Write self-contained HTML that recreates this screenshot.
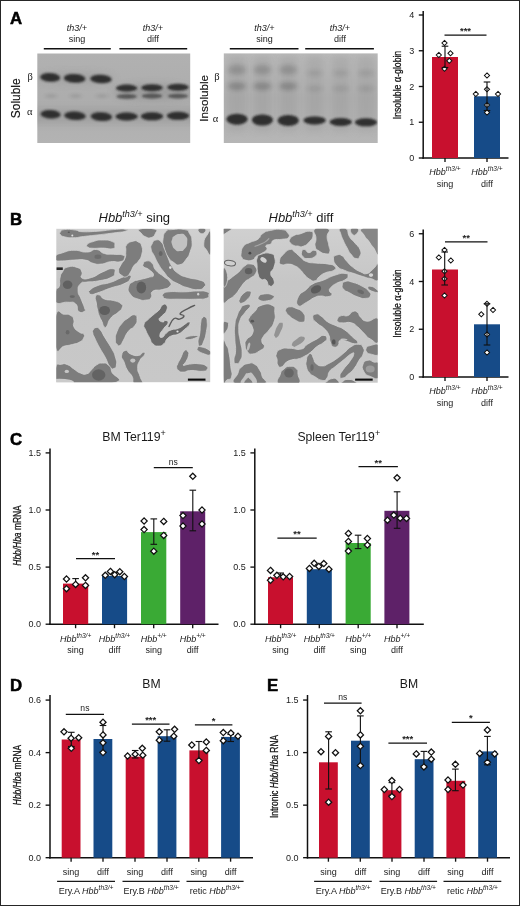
<!DOCTYPE html>
<html lang="en"><head><meta charset="utf-8"><title>Figure</title>
<style>html,body{margin:0;padding:0;background:#fff}body{width:520px;height:906px;overflow:hidden}svg{display:block}text{font-family:"Liberation Sans",sans-serif}.ser{font-family:"Liberation Serif","DejaVu Serif",serif}</style>
</head><body>
<svg width="520" height="906" viewBox="0 0 520 906">
<defs>
<filter id="b1" x="-30%" y="-80%" width="160%" height="260%"><feGaussianBlur stdDeviation="1.1 0.9"/></filter>
<filter id="b2" x="-30%" y="-80%" width="160%" height="260%"><feGaussianBlur stdDeviation="2.2 1.6"/></filter>
<filter id="b4" x="-30%" y="-80%" width="160%" height="260%"><feGaussianBlur stdDeviation="1.3 1.2"/></filter>
<filter id="b5" x="-40%" y="-120%" width="180%" height="340%"><feGaussianBlur stdDeviation="2.6 2.2"/></filter>
<filter id="b3" x="-50%" y="-150%" width="200%" height="400%"><feGaussianBlur stdDeviation="3.5"/></filter>
<filter id="mb" x="0" y="0" width="100%" height="100%"><feGaussianBlur stdDeviation="0.5"/></filter>
<linearGradient id="g1" x1="0" y1="0" x2="0" y2="1"><stop offset="0" stop-color="#b1b1b1"/><stop offset="0.5" stop-color="#adadad"/><stop offset="1" stop-color="#b3b3b3"/></linearGradient>
<linearGradient id="g2" x1="0" y1="0" x2="0" y2="1"><stop offset="0" stop-color="#bababa"/><stop offset="0.5" stop-color="#b0b0b0"/><stop offset="1" stop-color="#b6b6b6"/></linearGradient>
<clipPath id="c1"><rect x="37.3" y="53.5" width="152.9" height="89.5"/></clipPath>
<clipPath id="c2"><rect x="223.8" y="53.4" width="153.9" height="89.6"/></clipPath>
<linearGradient id="mg1" x1="0" y1="0" x2="0" y2="1"><stop offset="0" stop-color="#d0d0d0"/><stop offset="0.35" stop-color="#c6c6c6"/><stop offset="1" stop-color="#c8c8c8"/></linearGradient>
<clipPath id="m1"><rect x="56.3" y="228.8" width="153.9" height="153.4"/></clipPath>
<clipPath id="m2"><rect x="223.7" y="228.8" width="154" height="153.9"/></clipPath>
</defs>
<rect x="0" y="0" width="520" height="906" fill="#fff"/>
<rect x="0.5" y="0.5" width="519" height="905" fill="none" stroke="#262626" stroke-width="1"/>
<text x="10" y="23.7" font-size="16.8" text-anchor="start" font-weight="bold" fill="#000" stroke="#000" stroke-width="0.5">A</text>
<text x="10" y="225.2" font-size="16.8" text-anchor="start" font-weight="bold" fill="#000" stroke="#000" stroke-width="0.5">B</text>
<text x="10" y="445" font-size="16.8" text-anchor="start" font-weight="bold" fill="#000" stroke="#000" stroke-width="0.5">C</text>
<text x="10" y="691.4" font-size="16.8" text-anchor="start" font-weight="bold" fill="#000" stroke="#000" stroke-width="0.5">D</text>
<text x="267" y="691.4" font-size="16.8" text-anchor="start" font-weight="bold" fill="#000" stroke="#000" stroke-width="0.5">E</text>
<text x="77" y="30.5" font-size="9" text-anchor="middle" font-style="italic" fill="#1a1a1a">th3/+</text>
<text x="77" y="41.8" font-size="9" text-anchor="middle" fill="#1a1a1a">sing</text>
<line x1="43.8" y1="48.7" x2="110.8" y2="48.7" stroke="#111" stroke-width="1.4" stroke-linecap="butt"/>
<text x="153" y="30.5" font-size="9" text-anchor="middle" font-style="italic" fill="#1a1a1a">th3/+</text>
<text x="153" y="41.8" font-size="9" text-anchor="middle" fill="#1a1a1a">diff</text>
<line x1="119.4" y1="48.7" x2="187.2" y2="48.7" stroke="#111" stroke-width="1.4" stroke-linecap="butt"/>
<text x="264.5" y="30.5" font-size="9" text-anchor="middle" font-style="italic" fill="#1a1a1a">th3/+</text>
<text x="264.5" y="41.8" font-size="9" text-anchor="middle" fill="#1a1a1a">sing</text>
<line x1="229.8" y1="48.7" x2="298.5" y2="48.7" stroke="#111" stroke-width="1.4" stroke-linecap="butt"/>
<text x="340" y="30.5" font-size="9" text-anchor="middle" font-style="italic" fill="#1a1a1a">th3/+</text>
<text x="340" y="41.8" font-size="9" text-anchor="middle" fill="#1a1a1a">diff</text>
<line x1="305.2" y1="48.7" x2="373.9" y2="48.7" stroke="#111" stroke-width="1.4" stroke-linecap="butt"/>
<rect x="37.3" y="53.5" width="152.9" height="89.5" fill="url(#g1)"/>
<g clip-path="url(#c1)">
<rect x="30" y="108" width="170" height="16" fill="#858585" opacity="0.32" filter="url(#b3)"/>
<ellipse cx="153" cy="92" rx="40" ry="8" fill="#858585" opacity="0.42" filter="url(#b3)"/>
<ellipse cx="75" cy="78" rx="40" ry="6" fill="#858585" opacity="0.25" filter="url(#b3)"/>
<ellipse cx="50.2" cy="77.4" rx="10" ry="4.3" fill="#1c1c1c" opacity="0.86" filter="url(#b1)" transform="rotate(3 50.2 77.4)"/>
<ellipse cx="50.6" cy="114.3" rx="10" ry="4.3" fill="#1c1c1c" opacity="0.86" filter="url(#b1)" transform="rotate(3 50.6 114.3)"/>
<ellipse cx="51.2" cy="96" rx="6" ry="2.2" fill="#161616" opacity="0.1" filter="url(#b2)"/>
<ellipse cx="74.6" cy="78.4" rx="10.8" ry="4.3" fill="#1c1c1c" opacity="0.86" filter="url(#b1)" transform="rotate(3 74.6 78.4)"/>
<ellipse cx="75" cy="115.7" rx="10.8" ry="4.3" fill="#1c1c1c" opacity="0.86" filter="url(#b1)" transform="rotate(3 75 115.7)"/>
<ellipse cx="75.6" cy="96" rx="6" ry="2.2" fill="#161616" opacity="0.1" filter="url(#b2)"/>
<ellipse cx="101" cy="79" rx="10.8" ry="4.3" fill="#1c1c1c" opacity="0.86" filter="url(#b1)" transform="rotate(3 101 79)"/>
<ellipse cx="101.4" cy="116.6" rx="10.8" ry="4.3" fill="#1c1c1c" opacity="0.86" filter="url(#b1)" transform="rotate(3 101.4 116.6)"/>
<ellipse cx="102" cy="96" rx="6" ry="2.2" fill="#161616" opacity="0.1" filter="url(#b2)"/>
<ellipse cx="126.6" cy="88.1" rx="10.8" ry="3.5" fill="#1c1c1c" opacity="0.84" filter="url(#b1)"/>
<ellipse cx="126.6" cy="96.5" rx="10.2" ry="2.4" fill="#1c1c1c" opacity="0.55" filter="url(#b1)"/>
<ellipse cx="126.6" cy="116.5" rx="11.2" ry="4" fill="#1c1c1c" opacity="0.86" filter="url(#b1)"/>
<ellipse cx="152" cy="87.7" rx="10.8" ry="3.5" fill="#1c1c1c" opacity="0.84" filter="url(#b1)"/>
<ellipse cx="152" cy="96" rx="10.2" ry="2.4" fill="#1c1c1c" opacity="0.55" filter="url(#b1)"/>
<ellipse cx="152" cy="116.3" rx="11.2" ry="4" fill="#1c1c1c" opacity="0.86" filter="url(#b1)"/>
<ellipse cx="178" cy="87.2" rx="10.8" ry="3.5" fill="#1c1c1c" opacity="0.84" filter="url(#b1)"/>
<ellipse cx="178" cy="96.1" rx="10.2" ry="2.4" fill="#1c1c1c" opacity="0.55" filter="url(#b1)"/>
<ellipse cx="178" cy="115.8" rx="11.2" ry="4" fill="#1c1c1c" opacity="0.86" filter="url(#b1)"/>
</g>
<rect x="223.8" y="53.4" width="153.9" height="89.6" fill="url(#g2)"/>
<g clip-path="url(#c2)">
<rect x="228" y="56" width="18" height="75" fill="#8c8c8c" opacity="0.28" filter="url(#b3)"/>
<rect x="253.4" y="56" width="18" height="75" fill="#8c8c8c" opacity="0.28" filter="url(#b3)"/>
<rect x="279.2" y="56" width="18" height="75" fill="#8c8c8c" opacity="0.28" filter="url(#b3)"/>
<rect x="305.6" y="56" width="18" height="75" fill="#8c8c8c" opacity="0.28" filter="url(#b3)"/>
<rect x="331.8" y="56" width="18" height="75" fill="#8c8c8c" opacity="0.28" filter="url(#b3)"/>
<rect x="357" y="56" width="18" height="75" fill="#8c8c8c" opacity="0.28" filter="url(#b3)"/>
<ellipse cx="237" cy="119.2" rx="10.6" ry="5.5" fill="#1a1a1a" opacity="0.86" filter="url(#b4)"/>
<ellipse cx="237" cy="86.2" rx="9" ry="4" fill="#161616" opacity="0.22" filter="url(#b5)"/>
<ellipse cx="237" cy="69.8" rx="9" ry="4.8" fill="#161616" opacity="0.17" filter="url(#b5)"/>
<ellipse cx="262.4" cy="120" rx="10.6" ry="5.5" fill="#1a1a1a" opacity="0.86" filter="url(#b4)"/>
<ellipse cx="262.4" cy="86.2" rx="9" ry="4" fill="#161616" opacity="0.22" filter="url(#b5)"/>
<ellipse cx="262.4" cy="69.8" rx="9" ry="4.8" fill="#161616" opacity="0.17" filter="url(#b5)"/>
<ellipse cx="288.2" cy="120.4" rx="10.6" ry="5.5" fill="#1a1a1a" opacity="0.86" filter="url(#b4)"/>
<ellipse cx="288.2" cy="86.2" rx="9" ry="4" fill="#161616" opacity="0.22" filter="url(#b5)"/>
<ellipse cx="288.2" cy="69.8" rx="9" ry="4.8" fill="#161616" opacity="0.17" filter="url(#b5)"/>
<ellipse cx="314.6" cy="120.4" rx="11.2" ry="4" fill="#1c1c1c" opacity="0.86" filter="url(#b1)"/>
<ellipse cx="314.6" cy="88.5" rx="8" ry="3" fill="#161616" opacity="0.09" filter="url(#b5)"/>
<ellipse cx="314.6" cy="73" rx="8" ry="3" fill="#161616" opacity="0.09" filter="url(#b5)"/>
<ellipse cx="340.8" cy="122" rx="11.2" ry="4" fill="#1c1c1c" opacity="0.86" filter="url(#b1)"/>
<ellipse cx="340.8" cy="88.5" rx="8" ry="3" fill="#161616" opacity="0.09" filter="url(#b5)"/>
<ellipse cx="340.8" cy="73" rx="8" ry="3" fill="#161616" opacity="0.09" filter="url(#b5)"/>
<ellipse cx="366" cy="122.3" rx="11.2" ry="4" fill="#1c1c1c" opacity="0.86" filter="url(#b1)"/>
<ellipse cx="366" cy="88.5" rx="8" ry="3" fill="#161616" opacity="0.09" filter="url(#b5)"/>
<ellipse cx="366" cy="73" rx="8" ry="3" fill="#161616" opacity="0.09" filter="url(#b5)"/>
</g>
<text transform="translate(20.3,98.3) rotate(-90)" font-size="11.9" text-anchor="middle" fill="#111" stroke="#111" stroke-width="0.15">Soluble</text>
<text transform="translate(208,98.3) rotate(-90)" font-size="11.7" text-anchor="middle" fill="#111" stroke="#111" stroke-width="0.15">Insoluble</text>
<text class="ser" x="30.2" y="79.9" font-size="10.5" text-anchor="middle" fill="#1a1a1a">β</text>
<text class="ser" x="29.8" y="114.5" font-size="10.5" text-anchor="middle" fill="#1a1a1a">α</text>
<text class="ser" x="216.9" y="79.9" font-size="10.5" text-anchor="middle" fill="#1a1a1a">β</text>
<text class="ser" x="215.5" y="121.5" font-size="10.5" text-anchor="middle" fill="#1a1a1a">α</text>
<line x1="423.2" y1="11" x2="423.2" y2="158.75" stroke="#111" stroke-width="1.5" stroke-linecap="butt"/>
<line x1="422.45" y1="158" x2="508.5" y2="158" stroke="#111" stroke-width="1.5" stroke-linecap="butt"/>
<line x1="418.8" y1="15" x2="423.2" y2="15" stroke="#111" stroke-width="1.35" stroke-linecap="butt"/>
<text x="414.2" y="18.24" font-size="9" text-anchor="end" fill="#1a1a1a">4</text>
<line x1="418.8" y1="50.75" x2="423.2" y2="50.75" stroke="#111" stroke-width="1.35" stroke-linecap="butt"/>
<text x="414.2" y="53.99" font-size="9" text-anchor="end" fill="#1a1a1a">3</text>
<line x1="418.8" y1="86.5" x2="423.2" y2="86.5" stroke="#111" stroke-width="1.35" stroke-linecap="butt"/>
<text x="414.2" y="89.74" font-size="9" text-anchor="end" fill="#1a1a1a">2</text>
<line x1="418.8" y1="122.25" x2="423.2" y2="122.25" stroke="#111" stroke-width="1.35" stroke-linecap="butt"/>
<text x="414.2" y="125.49" font-size="9" text-anchor="end" fill="#1a1a1a">1</text>
<line x1="418.8" y1="158" x2="423.2" y2="158" stroke="#111" stroke-width="1.35" stroke-linecap="butt"/>
<text x="414.2" y="161.24" font-size="9" text-anchor="end" fill="#1a1a1a">0</text>
<rect x="432" y="57" width="26" height="101" fill="#c8102e"/>
<rect x="474" y="96.3" width="26" height="61.7" fill="#164b88"/>
<line x1="445" y1="158" x2="445" y2="162" stroke="#111" stroke-width="1.35" stroke-linecap="butt"/>
<line x1="487" y1="158" x2="487" y2="162" stroke="#111" stroke-width="1.35" stroke-linecap="butt"/>
<path d="M444.5,40.45 L447.05,43 L444.5,45.55 L441.95,43 Z" fill="#fff" stroke="#111" stroke-width="1.05"/>
<path d="M438.8,52.45 L441.35,55 L438.8,57.55 L436.25,55 Z" fill="#fff" stroke="#111" stroke-width="1.05"/>
<path d="M450.5,50.75 L453.05,53.3 L450.5,55.85 L447.95,53.3 Z" fill="#fff" stroke="#111" stroke-width="1.05"/>
<path d="M449.3,58.25 L451.85,60.8 L449.3,63.35 L446.75,60.8 Z" fill="#fff" stroke="#111" stroke-width="1.05"/>
<path d="M444.5,66.25 L447.05,68.8 L444.5,71.35 L441.95,68.8 Z" fill="#fff" stroke="#111" stroke-width="1.05"/>
<path d="M487,72.95 L489.55,75.5 L487,78.05 L484.45,75.5 Z" fill="#fff" stroke="#111" stroke-width="1.05"/>
<path d="M475.8,91.45 L478.35,94 L475.8,96.55 L473.25,94 Z" fill="#fff" stroke="#111" stroke-width="1.05"/>
<path d="M498,91.45 L500.55,94 L498,96.55 L495.45,94 Z" fill="#fff" stroke="#111" stroke-width="1.05"/>
<path d="M487,86.75 L489.55,89.3 L487,91.85 L484.45,89.3 Z" fill="#fff" stroke="#111" stroke-width="1.05"/>
<path d="M487,102.45 L489.55,105 L487,107.55 L484.45,105 Z" fill="#fff" stroke="#111" stroke-width="1.05"/>
<path d="M487,109.95 L489.55,112.5 L487,115.05 L484.45,112.5 Z" fill="#fff" stroke="#111" stroke-width="1.05"/>
<line x1="445" y1="46.2" x2="445" y2="67.5" stroke="#111" stroke-width="1.12" stroke-linecap="butt"/>
<line x1="441.7" y1="46.2" x2="448.3" y2="46.2" stroke="#111" stroke-width="1.12" stroke-linecap="butt"/>
<line x1="441.7" y1="67.5" x2="448.3" y2="67.5" stroke="#111" stroke-width="1.12" stroke-linecap="butt"/>
<line x1="487" y1="82" x2="487" y2="110.5" stroke="#111" stroke-width="1.12" stroke-linecap="butt"/>
<line x1="483.7" y1="82" x2="490.3" y2="82" stroke="#111" stroke-width="1.12" stroke-linecap="butt"/>
<line x1="483.7" y1="110.5" x2="490.3" y2="110.5" stroke="#111" stroke-width="1.12" stroke-linecap="butt"/>
<line x1="444.5" y1="35" x2="486.5" y2="35" stroke="#111" stroke-width="1.25" stroke-linecap="butt"/>
<text x="465.5" y="33.9" font-size="9.5" text-anchor="middle" font-weight="bold" fill="#222">***</text>
<text transform="translate(401,85) rotate(-90) scale(0.8,1)" font-size="10.8" text-anchor="middle" fill="#111" stroke="#111" stroke-width="0.25">Insoluble <tspan class="ser" font-size="13">α</tspan>-globin</text>
<text x="445" y="175.3" font-size="9" text-anchor="middle" font-style="italic" fill="#1a1a1a">Hbb<tspan font-size="6.57" dy="-3.87">th3/+</tspan></text>
<text x="445" y="187" font-size="9" text-anchor="middle" fill="#1a1a1a">sing</text>
<text x="487" y="175.3" font-size="9" text-anchor="middle" font-style="italic" fill="#1a1a1a">Hbb<tspan font-size="6.57" dy="-3.87">th3/+</tspan></text>
<text x="487" y="187" font-size="9" text-anchor="middle" fill="#1a1a1a">diff</text>
<text x="98.5" y="222" font-size="13" font-style="italic" fill="#1a1a1a">Hbb<tspan font-size="9" dy="-5">th3/+</tspan><tspan dy="5" font-style="normal"> sing</tspan></text>
<text x="268.5" y="222" font-size="13" font-style="italic" fill="#1a1a1a">Hbb<tspan font-size="9" dy="-5">th3/+</tspan><tspan dy="5" font-style="normal"> diff</tspan></text>
<rect x="56.3" y="228.8" width="153.9" height="153.4" fill="url(#mg1)"/>
<g clip-path="url(#m1)" filter="url(#mb)">
<path d="M60.4,232.0 C61.6,230.5 59.8,230.2 64.4,229.6 C68.9,229.0 70.3,229.4 75.5,230.1 C80.8,230.7 75.2,231.3 81.9,231.7 C88.6,232.0 88.3,231.8 97.9,231.2 C107.5,230.6 105.7,230.2 113.8,229.6 C122.0,229.0 121.6,228.8 125.0,229.3 C128.5,229.7 128.7,230.1 125.3,231.2 C122.0,232.3 122.1,231.8 113.8,232.9 C105.6,234.0 107.0,233.8 97.9,234.9 C88.8,235.9 90.7,235.6 83.5,236.5 C76.3,237.3 79.7,237.6 73.9,237.7 C68.2,237.8 68.4,237.7 64.4,236.8 C60.3,235.8 61.6,236.0 60.4,234.5 C59.2,233.1 59.2,233.5 60.4,232.0Z" fill="#7d7d7d" stroke="#d2d2d2" stroke-width="0.8"/>
<path d="M87.0,244.8 C88.5,243.0 88.4,243.0 93.1,241.6 C97.8,240.1 96.9,240.0 102.7,240.0 C108.4,240.0 108.6,239.9 112.3,241.6 C115.9,243.2 114.8,243.4 114.8,245.5 C114.8,247.7 115.9,248.0 112.3,248.7 C108.6,249.5 108.4,248.2 102.7,248.1 C96.9,248.0 97.4,248.5 93.1,248.3 C88.8,248.0 90.1,248.4 88.3,247.3 C86.5,246.3 85.6,246.5 87.0,244.8Z" fill="#7d7d7d" stroke="#d2d2d2" stroke-width="0.8"/>
<path d="M55.7,255.9 C57.9,253.7 57.3,254.4 62.8,252.7 C68.2,251.1 66.8,250.5 73.9,250.3 C81.1,250.1 80.0,252.3 86.7,252.1 C93.4,251.9 91.0,249.1 96.3,249.5 C101.6,250.0 99.0,252.1 104.3,253.5 C109.5,255.0 108.3,253.8 113.8,254.3 C119.4,254.8 119.5,253.9 122.6,255.1 C125.8,256.3 125.1,256.4 124.4,258.3 C123.7,260.3 124.3,260.7 120.2,261.7 C116.1,262.7 116.4,261.0 110.7,261.7 C104.9,262.4 106.3,263.6 101.1,264.1 C95.8,264.5 97.9,264.5 93.1,263.3 C88.3,262.1 90.9,261.0 85.1,260.1 C79.4,259.1 80.6,259.8 73.9,260.1 C67.2,260.3 68.2,260.9 62.8,260.9 C57.3,260.9 57.9,261.6 55.7,260.1 C53.6,258.6 53.6,258.1 55.7,255.9Z" fill="#7d7d7d" stroke="#d2d2d2" stroke-width="0.8"/>
<path d="M55.7,291.0 C56.8,286.3 58.0,290.1 59.3,286.3 C60.5,282.4 58.9,282.6 59.9,278.3 C60.9,274.0 60.2,275.2 62.5,271.9 C64.7,268.5 63.2,268.4 67.6,267.1 C72.0,265.8 72.8,266.0 77.1,267.4 C81.4,268.9 80.5,268.7 81.9,271.9 C83.4,275.0 79.1,276.3 81.9,278.0 C84.8,279.6 85.3,279.3 91.5,277.5 C97.7,275.7 96.4,274.5 102.7,271.9 C108.9,269.3 108.6,268.5 112.3,268.7 C115.9,268.9 115.3,270.0 114.8,272.7 C114.3,275.4 115.7,275.1 110.7,277.6 C105.6,280.1 105.1,279.6 97.9,281.0 C90.7,282.3 91.9,281.3 86.7,282.1 C81.5,282.9 83.2,281.0 80.6,283.7 C78.1,286.4 77.9,286.4 78.1,291.0 C78.2,295.6 79.2,294.0 81.1,299.0 C83.0,304.0 83.4,304.2 84.5,307.8 C85.6,311.4 86.5,309.9 84.8,311.0 C83.1,312.1 81.5,313.6 78.7,311.5 C76.0,309.3 78.9,306.6 75.5,303.8 C72.2,301.0 73.5,302.7 67.6,302.2 C61.6,301.7 59.3,305.6 55.7,302.2 C52.2,298.9 54.7,295.8 55.7,291.0Z" fill="#7d7d7d" stroke="#d2d2d2" stroke-width="0.8"/>
<path d="M89.9,290.2 C92.5,288.1 91.7,287.8 97.9,285.5 C104.1,283.1 103.5,284.7 110.7,282.3 C117.8,279.9 116.3,279.6 121.8,277.5 C127.3,275.3 126.5,274.6 129.0,275.1 C131.5,275.6 131.8,276.4 130.1,279.1 C128.5,281.7 129.3,281.3 123.4,284.0 C117.6,286.7 118.3,285.4 110.7,288.0 C103.0,290.6 103.6,290.9 97.9,292.8 C92.1,294.7 94.1,294.4 91.5,294.4 C88.9,294.3 89.6,293.9 89.1,292.6 C88.6,291.4 87.3,292.4 89.9,290.2Z" fill="#7d7d7d" stroke="#d2d2d2" stroke-width="0.8"/>
<path d="M126.6,244.8 C128.8,241.8 129.6,242.1 133.0,241.2 C136.4,240.4 135.5,240.3 138.1,241.9 C140.7,243.4 140.7,242.6 141.8,246.3 C142.9,250.1 142.9,249.8 141.8,254.3 C140.7,258.9 140.5,258.1 138.1,261.5 C135.7,265.0 136.0,262.7 133.8,265.8 C131.5,268.9 132.8,268.6 130.6,271.9 C128.5,275.1 129.2,275.6 126.6,276.7 C124.0,277.7 124.2,277.1 121.8,275.4 C119.4,273.7 118.9,274.3 118.6,271.1 C118.4,267.9 119.1,268.5 121.0,264.7 C122.9,260.9 123.6,262.4 125.0,258.3 C126.5,254.2 125.3,255.2 125.8,251.1 C126.3,247.1 124.5,247.7 126.6,244.8Z" fill="#7d7d7d" stroke="#d2d2d2" stroke-width="0.8"/>
<path d="M95.5,296.6 C96.4,294.2 96.8,294.3 99.5,295.0 C102.1,295.7 100.0,297.3 104.3,299.0 C108.6,300.7 108.8,299.2 113.8,300.6 C118.9,302.1 118.5,301.7 121.0,303.8 C123.5,306.0 123.1,305.2 122.1,307.8 C121.2,310.4 121.3,309.5 117.8,312.6 C114.4,315.7 114.0,314.1 110.7,318.2 C107.3,322.2 108.7,323.7 106.7,326.2 C104.7,328.6 105.4,327.9 104.0,326.5 C102.5,325.0 103.2,324.3 101.9,321.4 C100.5,318.4 100.8,319.9 99.5,316.6 C98.2,313.2 98.5,314.3 97.6,310.2 C96.6,306.1 96.9,307.1 96.3,303.0 C95.7,298.9 94.5,299.0 95.5,296.6Z" fill="#7d7d7d" stroke="#d2d2d2" stroke-width="0.8"/>
<path d="M166.3,231.2 C169.0,228.5 166.4,230.1 171.9,229.6 C177.4,229.1 179.4,228.4 184.7,229.6 C189.9,230.8 187.3,230.0 189.5,233.6 C191.7,237.2 191.7,236.3 192.0,241.6 C192.3,246.8 192.1,245.9 190.4,251.1 C188.7,256.4 189.4,255.0 186.3,259.1 C183.1,263.2 183.7,263.7 179.9,264.7 C176.1,265.7 177.1,264.7 173.5,262.3 C169.9,259.9 170.8,261.0 167.9,256.7 C165.0,252.4 165.4,253.4 163.9,247.9 C162.5,242.4 162.4,243.4 163.1,238.4 C163.8,233.3 163.7,233.8 166.3,231.2Z" fill="#7d7d7d" stroke="#d2d2d2" stroke-width="0.8"/>
<path d="M174.3,236.0 C176.6,234.4 176.5,233.9 179.9,233.9 C183.2,233.9 183.3,233.4 185.5,236.0 C187.7,238.5 187.5,238.5 187.2,242.4 C187.0,246.2 186.9,246.1 184.7,248.7 C182.5,251.4 182.8,250.9 179.9,251.1 C177.0,251.4 177.5,251.7 175.1,249.5 C172.7,247.4 172.8,247.1 171.9,244.0 C171.0,240.8 171.5,241.6 172.2,239.2 C172.9,236.8 172.0,237.6 174.3,236.0Z" fill="#c2c2c2"/>
<path d="M152.0,244.0 C153.4,241.1 153.1,240.4 155.9,240.0 C158.8,239.5 158.9,239.5 161.5,242.4 C164.2,245.2 162.8,245.0 164.7,249.5 C166.6,254.1 165.8,252.5 167.9,257.5 C170.1,262.5 168.8,261.5 171.9,266.3 C175.0,271.1 173.5,270.1 178.3,273.5 C183.1,276.8 181.6,275.6 187.9,277.5 C194.1,279.4 194.0,278.2 199.0,279.9 C204.1,281.5 203.3,280.9 204.8,283.1 C206.2,285.3 205.8,285.2 203.8,287.2 C201.9,289.2 203.0,289.4 198.2,289.6 C193.5,289.8 193.9,289.6 187.9,287.8 C181.9,286.1 183.6,286.5 178.3,283.9 C173.0,281.2 174.6,282.7 170.3,279.1 C166.0,275.5 167.5,276.4 163.9,271.9 C160.3,267.3 161.2,268.7 158.3,263.9 C155.5,259.1 156.5,260.2 154.3,255.9 C152.2,251.6 151.9,253.1 151.2,249.5 C150.4,245.9 150.5,246.8 152.0,244.0Z" fill="#7d7d7d" stroke="#d2d2d2" stroke-width="0.8"/>
<path d="M140.0,229.1 C143.8,227.8 149.7,227.8 154.3,229.1 C158.9,230.4 156.3,231.0 155.3,233.6 C154.3,236.1 154.1,236.6 151.2,237.6 C148.2,238.5 148.4,238.0 145.6,236.8 C142.7,235.6 143.3,235.9 141.6,233.6 C139.9,231.3 136.2,230.4 140.0,229.1Z" fill="#7d7d7d" stroke="#d2d2d2" stroke-width="0.8"/>
<path d="M198.7,228.8 C200.3,227.5 203.5,227.5 205.1,228.8 C206.7,230.0 205.7,231.7 204.1,232.9 C202.6,234.2 201.5,234.2 199.8,232.9 C198.2,231.7 197.1,230.0 198.7,228.8Z" fill="#7d7d7d" stroke="#d2d2d2" stroke-width="0.8"/>
<path d="M207.0,235.2 C209.2,232.2 209.8,227.9 211.0,233.3 C212.2,238.6 212.4,248.2 211.0,253.1 C209.6,257.9 208.4,252.5 206.2,249.5 C204.1,246.6 203.6,247.5 203.8,243.2 C204.1,238.8 204.9,238.1 207.0,235.2Z" fill="#7d7d7d" stroke="#d2d2d2" stroke-width="0.8"/>
<path d="M143.2,263.9 C143.9,262.1 143.7,261.3 146.4,261.0 C149.0,260.8 149.1,260.3 152.0,263.1 C154.8,265.9 152.4,266.2 155.9,270.3 C159.5,274.4 159.8,273.3 163.9,276.7 C168.0,280.0 167.9,278.6 169.7,281.5 C171.4,284.3 171.9,283.8 169.7,286.3 C167.5,288.7 167.4,288.1 162.3,289.6 C157.3,291.1 156.1,288.9 152.8,291.2 C149.4,293.5 153.1,294.8 151.2,297.4 C149.2,300.1 150.2,299.5 146.4,300.0 C142.5,300.5 143.2,300.9 138.4,299.2 C133.6,297.5 133.3,298.1 130.4,294.2 C127.5,290.4 127.8,290.1 128.8,286.3 C129.8,282.4 130.7,283.4 133.6,281.5 C136.5,279.5 134.1,281.1 138.4,279.9 C142.7,278.7 143.4,278.9 148.0,277.5 C152.5,276.0 153.3,277.5 153.5,275.1 C153.8,272.7 151.6,271.9 148.8,269.5 C145.9,267.1 145.6,268.8 144.0,267.1 C142.3,265.4 142.5,265.7 143.2,263.9Z" fill="#7d7d7d" stroke="#d2d2d2" stroke-width="0.8"/>
<path d="M163.1,294.2 C164.8,292.8 162.2,292.6 168.7,291.8 C175.2,291.1 176.1,292.1 184.7,291.8 C193.3,291.6 190.7,291.0 197.4,291.0 C204.1,291.0 203.6,290.6 207.0,291.8 C210.4,293.0 209.0,293.1 208.8,295.0 C208.5,297.0 210.1,297.1 206.2,298.4 C202.3,299.6 203.7,298.9 195.8,299.2 C187.9,299.4 188.7,299.3 179.9,299.2 C171.0,299.1 171.3,299.6 166.3,298.9 C161.3,298.1 164.1,298.0 163.1,296.6 C162.2,295.2 161.4,295.7 163.1,294.2Z" fill="#7d7d7d" stroke="#d2d2d2" stroke-width="0.8"/>
<path d="M55.7,315.9 C58.3,305.9 59.9,314.4 64.4,314.3 C68.9,314.2 67.9,313.9 70.8,315.6 C73.6,317.3 73.0,316.7 73.9,320.0 C74.9,323.4 72.3,323.1 73.9,326.8 C75.6,330.4 76.6,330.2 79.5,332.3 C82.5,334.5 82.4,332.3 83.7,333.9 C84.9,335.6 84.9,335.5 83.7,337.9 C82.4,340.4 82.9,340.1 79.5,342.1 C76.1,344.0 76.9,343.3 72.3,344.5 C67.8,345.7 69.3,345.1 64.4,346.1 C59.4,347.0 58.3,356.7 55.7,347.7 C53.2,338.6 53.2,325.9 55.7,315.9Z" fill="#7d7d7d" stroke="#d2d2d2" stroke-width="0.8"/>
<path d="M93.1,329.9 C94.2,328.3 94.1,327.5 96.3,327.5 C98.4,327.5 97.6,326.8 100.3,329.9 C102.9,333.1 101.7,332.4 105.1,337.9 C108.4,343.4 108.3,342.6 111.5,348.3 C114.6,354.0 114.0,352.0 115.4,357.1 C116.9,362.1 116.9,361.7 116.4,365.1 C115.9,368.5 115.8,367.9 113.8,368.4 C111.9,368.9 112.5,370.1 109.9,366.7 C107.2,363.3 108.2,362.8 105.1,357.1 C102.0,351.3 102.6,353.2 99.5,347.5 C96.4,341.8 96.7,342.2 94.7,337.9 C92.7,333.6 93.3,335.5 92.8,333.1 C92.3,330.7 92.0,331.6 93.1,329.9Z" fill="#7d7d7d" stroke="#d2d2d2" stroke-width="0.8"/>
<path d="M134.6,314.8 C132.0,314.3 132.0,315.3 128.2,318.0 C124.4,320.6 125.2,319.5 121.8,323.6 C118.5,327.6 119.0,326.8 117.0,331.5 C115.1,336.3 115.4,335.7 115.4,339.5 C115.4,343.4 115.6,342.6 117.0,344.3 C118.5,346.0 118.3,346.5 120.2,345.3 C122.1,344.1 121.0,344.4 123.4,340.3 C125.8,336.2 124.9,335.8 128.2,331.5 C131.6,327.2 132.0,329.5 134.6,326.0 C137.2,322.4 137.0,322.9 137.0,319.6 C137.0,316.2 137.2,315.3 134.6,314.8Z" fill="#7d7d7d" stroke="#d2d2d2" stroke-width="0.8"/>
<path d="M55.7,367.5 C57.4,361.7 57.6,365.1 61.2,364.3 C64.7,363.4 63.7,363.3 67.6,364.7 C71.4,366.2 70.1,366.6 73.9,369.0 C77.8,371.5 76.5,371.6 80.3,373.0 C84.2,374.5 83.4,374.8 86.7,373.8 C90.1,372.9 88.6,372.5 91.5,369.8 C94.4,367.2 92.9,367.1 96.3,365.1 C99.6,363.0 99.1,363.1 102.7,363.1 C106.3,363.1 105.6,362.6 108.3,365.1 C110.9,367.5 110.5,365.9 111.6,371.4 C112.7,376.9 128.7,379.8 111.9,383.4 C95.2,387.0 72.6,388.2 55.7,383.4 C38.9,378.6 54.1,373.2 55.7,367.5Z" fill="#7d7d7d" stroke="#d2d2d2" stroke-width="0.8"/>
<path d="M162.3,305.2 C164.5,303.8 165.2,303.5 166.5,305.2 C167.7,306.9 167.7,307.7 166.5,310.8 C165.2,313.9 164.5,312.9 162.3,315.6 C160.1,318.2 158.9,317.7 159.1,319.6 C159.4,321.5 161.4,321.7 163.1,322.0 C164.8,322.2 163.4,320.1 164.9,320.4 C166.4,320.6 168.4,320.4 168.1,322.8 C167.8,325.2 166.4,324.8 163.9,328.3 C161.5,331.9 160.4,332.0 159.9,334.7 C159.5,337.4 160.4,337.8 162.3,337.3 C164.2,336.8 163.7,335.3 166.3,333.1 C169.0,330.9 167.5,331.4 171.1,329.9 C174.7,328.5 174.2,330.0 178.3,328.3 C182.4,326.7 181.6,326.3 184.7,324.4 C187.8,322.4 187.2,322.0 188.7,322.0 C190.1,322.0 190.8,322.2 189.6,324.4 C188.4,326.6 188.1,326.4 184.7,329.3 C181.3,332.2 182.1,332.2 178.3,334.1 C174.5,336.0 175.3,334.3 171.9,335.7 C168.6,337.1 169.5,336.5 167.1,338.9 C164.7,341.3 166.6,341.5 163.9,343.7 C161.3,345.8 161.7,346.1 158.3,346.1 C155.0,346.1 155.4,346.1 152.8,343.7 C150.1,341.2 151.7,342.0 149.6,337.9 C147.4,333.8 147.2,334.0 145.6,329.9 C143.9,325.9 143.3,327.5 144.0,324.4 C144.7,321.2 144.8,322.7 148.0,319.6 C151.1,316.5 151.0,316.9 154.3,314.0 C157.7,311.1 156.7,312.6 159.1,310.0 C161.5,307.4 160.1,306.6 162.3,305.2Z" fill="#6a6a6a" stroke="#d2d2d2" stroke-width="0.8"/>
<path d="M169.0,326.4 C170.5,324.1 170.7,321.0 173.8,318.8 C177.0,316.6 176.5,320.0 179.6,319.1 C182.6,318.2 183.8,317.6 184.0,315.9 C184.2,314.2 179.1,315.5 180.2,313.3 C181.4,311.1 183.6,310.9 187.9,308.6 C192.2,306.2 192.6,306.3 194.6,305.4" fill="none" stroke="#5c5c5c" stroke-width="1.4" stroke-linecap="round" stroke-linejoin="round"/>
<path d="M202.2,318.0 C203.7,316.1 203.9,316.0 205.4,317.2 C206.9,318.4 206.9,317.7 207.2,322.0 C207.5,326.3 207.4,325.8 206.4,331.5 C205.4,337.3 205.6,336.8 203.8,341.1 C202.1,345.4 202.4,345.4 200.6,345.9 C198.9,346.4 198.3,346.5 198.1,342.7 C197.8,338.9 199.1,338.9 199.8,333.1 C200.6,327.4 199.9,328.1 200.6,323.6 C201.4,319.0 200.8,319.9 202.2,318.0Z" fill="#7d7d7d" stroke="#d2d2d2" stroke-width="0.8"/>
<path d="M197.4,348.3 C198.2,347.1 196.9,346.0 200.6,346.7 C204.4,347.4 207.1,348.3 209.9,350.7 C212.7,353.1 211.5,353.8 209.9,354.8 C208.3,355.8 208.1,355.2 204.6,354.0 C201.1,352.8 200.4,352.6 198.2,350.9 C196.1,349.1 196.7,349.5 197.4,348.3Z" fill="#7d7d7d" stroke="#d2d2d2" stroke-width="0.8"/>
<path d="M184.4,350.7 C186.6,348.7 186.6,350.2 187.9,351.7 C189.1,353.1 189.1,352.5 188.5,355.5 C187.9,358.5 187.5,358.6 186.0,361.5 C184.4,364.5 182.3,364.6 183.4,365.4 C184.5,366.1 184.8,364.6 189.5,364.1 C194.2,363.6 194.0,363.2 199.0,363.8 C204.1,364.4 203.8,364.3 206.2,366.0 C208.6,367.7 208.2,367.9 207.0,369.5 C205.8,371.1 207.0,371.0 202.2,371.3 C197.4,371.6 196.8,370.2 191.1,370.5 C185.3,370.7 186.8,372.1 183.1,372.1 C179.3,372.1 180.5,371.8 178.6,370.5 C176.7,369.1 177.0,369.6 176.7,367.6 C176.4,365.6 176.5,366.6 177.7,363.8 C178.8,361.0 178.5,362.3 180.5,358.4 C182.5,354.4 182.2,352.7 184.4,350.7Z" fill="#7d7d7d" stroke="#d2d2d2" stroke-width="0.8"/>
<path d="M186.3,337.1 C188.7,335.9 192.7,335.5 195.8,335.5 C199.0,335.6 199.2,336.0 196.8,337.3 C194.4,338.5 191.0,339.7 187.9,339.7 C184.7,339.6 183.9,338.4 186.3,337.1Z" fill="#7d7d7d" stroke="#d2d2d2" stroke-width="0.8"/>
<path d="M130.4,353.9 C134.2,355.4 134.6,356.0 138.4,355.5 C142.2,355.0 141.3,352.5 143.2,352.3 C145.0,352.0 145.6,352.3 144.6,354.7 C143.7,357.1 142.0,356.2 140.0,360.3 C137.9,364.3 137.7,363.5 137.7,368.3 C137.7,373.0 138.7,371.7 140.0,376.2 C141.2,380.8 143.6,381.3 141.9,383.4 C140.2,385.6 137.4,385.6 134.4,383.4 C131.4,381.3 134.2,380.3 132.0,376.2 C129.8,372.2 129.6,374.2 127.2,369.8 C124.8,365.5 125.7,366.2 124.0,361.9 C122.3,357.6 121.1,358.9 121.6,355.5 C122.1,352.0 123.0,350.9 125.6,350.4 C128.2,349.9 126.6,352.4 130.4,353.9Z" fill="#7d7d7d" stroke="#d2d2d2" stroke-width="0.8"/>
<ellipse cx="132.8" cy="360.6" rx="2.6" ry="2.1" fill="#c2c2c2"/>
<ellipse cx="67.6" cy="284.7" rx="4.8" ry="4.2" fill="#3c3c3c" opacity="0.42"/>
<ellipse cx="72.3" cy="296.6" rx="2.6" ry="1.3" fill="#3c3c3c" opacity="0.35"/>
<ellipse cx="97.9" cy="256.7" rx="3.5" ry="2.2" fill="#3c3c3c" opacity="0.25"/>
<ellipse cx="141.3" cy="287.5" rx="4.8" ry="6.1" fill="#3c3c3c" opacity="0.48"/>
<ellipse cx="160.7" cy="253.5" rx="1.9" ry="2.6" fill="#3c3c3c" opacity="0.35"/>
<ellipse cx="104.6" cy="310.5" rx="5.4" ry="4.5" fill="#3c3c3c" opacity="0.48"/>
<ellipse cx="98.7" cy="375.0" rx="6.7" ry="5.7" fill="#3c3c3c" opacity="0.38"/>
<ellipse cx="66.8" cy="371.4" rx="2.2" ry="1.6" fill="#d8d8d8" opacity="0.8"/>
<ellipse cx="67.6" cy="332.3" rx="1.9" ry="2.2" fill="#3c3c3c" opacity="0.3"/>
<ellipse cx="72.3" cy="235.5" rx="1.0" ry="1.0" fill="#e0e0e0"/>
<ellipse cx="68.8" cy="232.3" rx="1.1" ry="0.8" fill="#3c3c3c" opacity="0.6"/>
<ellipse cx="170.3" cy="267.6" rx="1.3" ry="1.3" fill="#e0e0e0"/>
<ellipse cx="198.2" cy="294.2" rx="1.1" ry="1.4" fill="#cfcfcf"/>
<ellipse cx="177.5" cy="331.5" rx="1.1" ry="1.0" fill="#e0e0e0"/>
<ellipse cx="59.6" cy="382.3" rx="14.4" ry="3.5" fill="#e6e6e6" opacity="0.75"/>
<rect x="56.4" y="267.4" width="6.4" height="2.6" fill="#2a2a2a"/>
<rect x="187.9" y="378.6" width="17.6" height="2.1" fill="#111"/>
</g>
<rect x="223.7" y="228.8" width="154" height="153.9" fill="url(#mg1)"/>
<g clip-path="url(#m2)" filter="url(#mb)">
<path d="M241.1,253.5 C241.6,250.2 240.9,249.7 243.5,246.3 C246.2,243.0 245.6,244.5 249.9,242.4 C254.2,240.2 254.1,241.8 257.9,239.2 C261.7,236.5 258.9,236.2 262.7,233.6 C266.5,230.9 264.9,231.6 270.7,230.4 C276.4,229.2 276.8,228.9 281.8,229.6 C286.9,230.3 285.6,230.4 287.6,232.8 C289.6,235.2 290.1,235.6 288.4,237.6 C286.7,239.5 286.2,238.6 281.8,239.3 C277.5,240.1 277.2,238.7 273.9,240.1 C270.5,241.5 273.1,242.3 270.7,244.0 C268.3,245.6 267.0,244.0 265.9,245.7 C264.7,247.4 268.3,247.1 266.8,249.5 C265.4,251.9 264.3,251.7 261.1,253.7 C257.9,255.7 258.9,254.2 256.3,256.1 C253.7,258.0 255.7,258.9 252.3,260.1 C249.0,261.3 248.2,260.8 245.1,260.1 C242.0,259.3 243.1,259.5 241.9,257.5 C240.7,255.6 240.7,256.9 241.1,253.5Z" fill="#7d7d7d" stroke="#d2d2d2" stroke-width="0.8"/>
<path d="M255.0,246.3 C256.5,245.8 256.8,245.8 259.8,244.4 C262.9,243.1 262.6,243.6 265.2,241.9 C267.9,240.2 267.7,239.6 268.8,238.7" fill="none" stroke="#a8a8a8" stroke-width="1.1" stroke-linecap="round" stroke-linejoin="round"/>
<path d="M257.1,258.3 C258.3,255.0 257.0,255.8 261.1,254.3 C265.2,252.9 266.6,252.3 270.7,253.5 C274.8,254.7 273.8,254.2 274.8,258.3 C275.8,262.4 275.3,262.5 274.0,267.1 C272.8,271.6 270.7,269.7 270.7,273.5 C270.6,277.3 273.1,276.5 273.9,279.9 C274.6,283.2 274.7,282.9 273.2,284.7 C271.8,286.4 271.3,287.0 269.1,285.6 C266.9,284.2 268.3,281.8 265.9,279.9 C263.5,278.0 263.5,281.1 261.1,279.2 C258.7,277.3 259.1,277.6 257.9,273.5 C256.7,269.4 257.3,270.0 257.1,265.5 C256.9,261.0 255.9,261.7 257.1,258.3Z" fill="#6a6a6a" stroke="#d2d2d2" stroke-width="0.8"/>
<ellipse cx="263.5" cy="259.9" rx="3.5" ry="2.2" fill="#dcdcdc" opacity="0.9" transform="rotate(35 263.5 259.9)"/>
<path d="M222.8,285.5 C225.2,278.5 226.0,282.3 230.8,278.3 C235.6,274.2 234.7,275.5 238.8,271.9 C242.8,268.3 241.0,268.7 244.3,266.3 C247.7,263.9 246.5,263.7 249.9,263.9 C253.3,264.1 253.9,264.2 255.7,267.1 C257.4,270.0 257.4,270.1 255.7,273.5 C253.9,276.9 253.1,276.0 249.9,278.4 C246.8,280.9 248.0,278.8 245.1,281.6 C242.3,284.4 243.2,284.1 240.3,287.8 C237.5,291.6 238.9,290.8 235.6,294.2 C232.2,297.6 233.0,297.0 229.2,299.2 C225.3,301.3 224.7,305.5 222.8,301.4 C220.9,297.3 220.4,292.4 222.8,285.5Z" fill="#7d7d7d" stroke="#d2d2d2" stroke-width="0.8"/>
<path d="M222.8,228.5 C225.3,226.8 229.7,227.4 231.1,228.5 C232.5,229.5 230.1,230.4 227.6,232.0 C225.1,233.6 224.2,234.9 222.8,233.9 C221.4,232.8 220.3,230.1 222.8,228.5Z" fill="#7d7d7d" stroke="#d2d2d2" stroke-width="0.8"/>
<ellipse cx="230.0" cy="263.1" rx="5.6" ry="2.7" fill="#cfcfcf" stroke="#666" stroke-width="1.0" transform="rotate(8 230.0 263.1)"/>
<path d="M222.8,270.0 C224.0,266.0 225.5,268.0 226.8,271.9 C228.0,275.8 228.1,279.1 226.9,283.1 C225.7,287.0 224.0,288.9 222.8,285.0 C221.5,281.0 221.6,273.9 222.8,270.0Z" fill="#7d7d7d" stroke="#d2d2d2" stroke-width="0.8"/>
<path d="M239.5,299.0 C240.7,296.4 240.7,295.8 243.5,293.4 C246.4,291.0 246.9,290.8 249.1,291.0 C251.3,291.3 251.6,291.5 250.9,294.2 C250.2,296.9 249.4,297.3 246.7,300.0 C244.0,302.7 244.1,302.5 241.9,303.2 C239.8,303.8 240.3,303.5 239.5,302.2 C238.8,301.0 238.4,301.7 239.5,299.0Z" fill="#7d7d7d" stroke="#d2d2d2" stroke-width="0.8"/>
<path d="M258.7,296.6 C259.9,294.7 260.2,294.4 264.3,293.9 C268.4,293.4 269.6,293.7 272.3,295.0 C275.0,296.3 274.7,296.5 273.2,298.2 C271.8,299.9 271.4,300.1 267.5,300.8 C263.6,301.4 262.9,301.7 260.3,300.5 C257.7,299.2 257.5,298.6 258.7,296.6Z" fill="#7d7d7d" stroke="#d2d2d2" stroke-width="0.8"/>
<path d="M279.5,260.7 C279.9,257.6 280.3,257.7 283.4,254.3 C286.6,251.0 286.5,250.3 289.8,249.5 C293.2,248.8 291.6,249.8 294.6,251.9 C297.7,254.1 296.5,253.8 300.0,256.7 C303.6,259.6 301.6,259.6 306.4,261.5 C311.2,263.4 309.8,262.4 316.0,263.1 C322.2,263.8 321.6,262.9 327.2,263.9 C332.7,264.9 332.6,264.3 334.5,266.3 C336.5,268.3 336.4,268.5 333.7,270.4 C331.0,272.4 329.9,270.8 325.6,272.7 C321.2,274.6 322.3,274.2 319.2,276.7 C316.1,279.1 318.1,280.1 315.2,280.8 C312.3,281.6 312.7,281.0 309.6,279.2 C306.5,277.5 307.7,278.0 304.8,275.1 C302.0,272.2 303.1,272.3 300.0,269.5 C297.0,266.7 298.2,267.4 294.6,265.8 C291.1,264.2 292.1,264.4 288.2,264.1 C284.4,263.7 284.5,265.7 281.8,264.7 C279.2,263.7 279.0,263.8 279.5,260.7Z" fill="#7d7d7d" stroke="#d2d2d2" stroke-width="0.8"/>
<path d="M289.8,239.2 C291.0,236.8 291.6,236.8 294.6,235.2 C297.7,233.6 295.5,235.1 300.0,233.9 C304.5,232.7 305.7,230.8 309.6,231.2 C313.5,231.6 313.0,232.1 313.0,235.2 C313.0,238.3 312.5,238.2 309.6,241.6 C306.7,244.9 306.8,245.0 303.2,246.3 C299.7,247.7 300.4,246.2 297.8,246.0 C295.2,245.8 296.8,246.6 294.6,245.7 C292.5,244.8 292.1,245.1 290.6,243.2 C289.2,241.2 288.6,241.6 289.8,239.2Z" fill="#7d7d7d" stroke="#d2d2d2" stroke-width="0.8"/>
<path d="M301.6,251.9 C302.1,249.7 302.6,249.3 304.8,249.5 C306.9,249.8 306.1,252.5 308.8,252.7 C311.4,253.0 311.1,250.3 313.6,250.3 C316.0,250.3 316.7,250.8 316.9,252.7 C317.2,254.7 317.0,255.2 314.4,256.9 C311.7,258.6 311.3,258.5 308.0,258.5 C304.6,258.5 305.1,258.8 303.2,256.9 C301.3,254.9 301.1,254.1 301.6,251.9Z" fill="#7d7d7d" stroke="#d2d2d2" stroke-width="0.8"/>
<path d="M315.2,228.8 C318.8,225.9 324.5,226.4 328.1,228.8 C331.7,231.2 326.9,232.0 327.1,236.8 C327.3,241.6 328.0,240.2 328.7,244.8 C329.5,249.3 330.6,249.3 329.7,251.9 C328.7,254.6 328.7,253.9 325.5,253.7 C322.4,253.4 322.3,253.3 319.2,251.1 C316.0,248.9 316.1,250.2 315.2,246.3 C314.2,242.5 316.0,243.6 316.0,238.4 C316.0,233.1 311.5,231.7 315.2,228.8Z" fill="#7d7d7d" stroke="#d2d2d2" stroke-width="0.8"/>
<path d="M339.9,228.8 C341.6,227.4 343.4,226.4 346.3,228.8 C349.2,231.2 346.8,232.5 349.5,236.8 C352.1,241.1 351.9,239.3 355.1,243.2 C358.2,247.0 358.5,245.7 360.0,249.5 C361.5,253.4 361.3,253.2 360.0,255.9 C358.8,258.6 358.5,259.0 355.9,258.5 C353.2,258.0 353.7,257.5 351.1,254.3 C348.4,251.2 349.5,252.3 347.1,247.9 C344.7,243.6 345.0,244.3 343.1,240.0 C341.2,235.7 341.7,236.9 340.7,233.6 C339.7,230.2 338.2,230.2 339.9,228.8Z" fill="#7d7d7d" stroke="#d2d2d2" stroke-width="0.8"/>
<path d="M351.1,228.5 C352.6,226.6 356.1,226.9 357.8,228.5 C359.5,230.0 358.4,231.8 356.8,233.6 C355.3,235.4 354.4,236.1 352.7,234.5 C350.9,233.0 349.5,230.3 351.1,228.5Z" fill="#7d7d7d" stroke="#d2d2d2" stroke-width="0.8"/>
<path d="M362.6,228.5 C366.8,226.4 374.1,221.3 379.0,228.5 C383.9,235.7 380.6,246.8 379.0,252.4 C377.4,258.1 376.7,250.7 373.7,247.3 C370.8,244.0 372.0,244.8 369.3,241.2 C366.6,237.7 366.8,239.3 364.8,235.5 C362.8,231.7 358.3,230.6 362.6,228.5Z" fill="#868686"/>
<path d="M333.5,259.1 C333.3,255.7 334.1,256.1 336.7,255.1 C339.3,254.2 339.4,254.2 342.3,255.9 C345.2,257.6 343.2,257.4 346.3,260.7 C349.4,264.1 348.4,263.7 352.7,267.1 C357.0,270.4 356.3,270.0 360.7,271.9 C365.0,273.8 363.4,274.2 367.0,273.5 C370.6,272.8 369.0,272.1 372.6,269.5 C376.2,266.9 377.1,261.8 379.0,264.7 C380.9,267.6 381.6,274.9 379.0,279.1 C376.4,283.2 374.8,279.1 370.2,278.4 C365.7,277.8 368.6,278.3 363.8,276.8 C359.1,275.4 360.0,275.6 354.3,273.6 C348.5,271.7 349.7,272.6 344.7,270.4 C339.7,268.3 340.9,269.9 337.5,266.5 C334.2,263.1 333.8,262.5 333.5,259.1Z" fill="#7d7d7d" stroke="#d2d2d2" stroke-width="0.8"/>
<ellipse cx="371.0" cy="275.1" rx="2.2" ry="1.8" fill="#d4d4d4"/>
<path d="M298.4,296.6 C300.8,291.7 302.1,293.3 306.4,289.4 C310.7,285.6 307.5,286.7 312.8,283.9 C318.0,281.0 317.2,282.5 323.9,279.9 C330.6,277.2 328.9,277.0 335.1,275.1 C341.3,273.2 340.8,273.2 344.7,273.5 C348.6,273.7 348.0,273.9 348.0,275.9 C348.0,277.8 348.1,277.8 344.7,280.0 C341.3,282.2 340.8,281.1 336.7,283.2 C332.6,285.4 333.3,284.9 331.1,287.2 C329.0,289.6 329.2,288.9 329.5,291.0 C329.8,293.1 332.8,292.5 332.1,294.2 C331.4,296.0 330.5,296.3 327.1,296.8 C323.7,297.3 324.6,295.7 320.8,296.0 C316.9,296.2 318.7,295.7 314.4,297.6 C310.1,299.5 311.2,299.9 306.4,302.4 C301.6,304.8 300.8,307.4 298.4,305.7 C296.0,304.0 296.0,301.5 298.4,296.6Z" fill="#7d7d7d" stroke="#d2d2d2" stroke-width="0.8"/>
<path d="M342.3,284.7 C342.8,282.2 342.4,282.2 345.5,281.5 C348.6,280.7 347.6,280.8 352.7,282.3 C357.7,283.7 357.5,283.6 362.3,286.3 C367.0,288.9 366.2,288.2 368.6,291.0 C371.1,293.9 371.3,293.6 370.4,295.8 C369.4,298.0 369.3,298.1 365.4,298.4 C361.6,298.7 362.3,298.5 357.5,296.8 C352.7,295.1 353.6,294.9 349.5,292.8 C345.4,290.6 346.0,292.0 343.9,289.6 C341.7,287.2 341.8,287.1 342.3,284.7Z" fill="#7d7d7d" stroke="#d2d2d2" stroke-width="0.8"/>
<path d="M367.8,287.8 C367.6,286.4 368.4,285.8 371.0,286.3 C373.7,286.7 374.4,287.6 376.6,289.4 C378.9,291.3 380.0,291.8 378.5,292.3 C377.1,292.8 375.0,292.5 371.8,291.2 C368.6,289.9 368.1,289.3 367.8,287.8Z" fill="#7d7d7d" stroke="#d2d2d2" stroke-width="0.8"/>
<path d="M249.1,318.0 C250.8,314.9 251.1,315.4 254.7,311.6 C258.3,307.8 255.8,307.2 261.1,305.4 C266.4,303.5 268.2,303.3 272.3,305.4 C276.4,307.5 274.3,307.4 274.8,312.4 C275.4,317.4 275.7,316.7 274.0,322.0 C272.3,327.2 272.2,325.6 269.1,329.9 C265.9,334.3 265.6,332.7 263.5,336.3 C261.3,339.9 261.6,338.8 261.9,341.9 C262.2,345.0 265.2,344.0 264.4,346.7 C263.7,349.4 263.1,348.6 259.5,350.9 C255.9,353.1 255.9,353.8 252.3,354.0 C248.7,354.3 249.7,354.3 247.5,351.7 C245.4,349.0 245.4,348.7 245.1,345.1 C244.9,341.5 244.6,342.9 246.7,339.5 C248.9,336.2 250.6,337.8 252.3,333.9 C254.0,330.1 253.3,330.3 252.3,326.8 C251.4,323.2 250.1,324.6 249.1,322.0 C248.2,319.3 247.4,321.1 249.1,318.0Z" fill="#7d7d7d" stroke="#d2d2d2" stroke-width="0.8"/>
<path d="M243.5,305.4 C246.5,304.2 249.8,303.3 250.2,305.4 C250.7,307.5 248.1,308.1 245.1,312.4 C242.2,316.6 242.3,314.3 240.3,319.6 C238.4,324.8 238.8,323.5 238.8,329.9 C238.8,336.4 239.3,334.4 240.3,341.1 C241.4,347.8 242.1,346.5 242.1,352.3 C242.1,358.1 242.1,357.0 240.3,360.4 C238.6,363.8 238.3,363.7 236.4,363.6 C234.4,363.6 234.2,364.1 234.0,360.3 C233.7,356.4 235.3,357.4 235.6,350.7 C235.8,344.0 235.0,345.6 234.8,337.9 C234.5,330.3 234.0,331.9 234.8,325.2 C235.5,318.5 235.5,320.4 237.2,315.6 C238.8,310.8 238.4,312.3 240.3,309.2 C242.3,306.1 240.6,306.5 243.5,305.4Z" fill="#7d7d7d" stroke="#d2d2d2" stroke-width="0.8"/>
<path d="M285.8,309.2 C286.9,307.5 286.7,307.0 289.8,306.8 C292.9,306.6 292.4,306.8 296.2,308.4 C300.0,310.0 300.0,309.0 302.6,312.1 C305.2,315.2 305.2,315.7 305.0,318.8 C304.8,321.8 304.9,322.0 301.8,322.3 C298.7,322.6 298.4,321.7 294.6,319.7 C290.8,317.7 291.5,317.8 289.0,315.6 C286.5,313.4 287.3,314.3 286.3,312.4 C285.4,310.5 284.8,310.9 285.8,309.2Z" fill="#7d7d7d" stroke="#d2d2d2" stroke-width="0.8"/>
<path d="M274.7,333.1 C275.6,329.8 275.9,328.3 277.9,325.2 C279.8,322.0 279.6,322.8 281.0,322.8 C282.5,322.8 283.0,322.3 282.8,325.2 C282.6,328.0 282.0,328.7 280.3,332.3 C278.5,336.0 278.7,336.1 277.1,337.3 C275.4,338.5 275.4,337.6 274.7,336.3 C273.9,335.1 273.7,336.5 274.7,333.1Z" fill="#939393"/>
<path d="M292.2,343.5 C293.2,341.5 293.3,341.6 296.2,339.5 C299.1,337.5 299.4,336.4 301.8,336.6 C304.2,336.9 305.9,337.5 304.2,340.3 C302.5,343.1 299.6,344.3 296.2,346.1 C292.9,347.8 294.2,346.8 293.0,346.1 C291.8,345.3 291.3,345.5 292.2,343.5Z" fill="#939393"/>
<path d="M276.3,353.9 C277.5,350.8 277.0,350.8 281.0,349.1 C285.1,347.4 283.8,348.3 289.8,348.3 C295.8,348.3 295.7,350.3 301.0,349.1 C306.3,347.9 302.6,347.4 307.4,344.3 C312.2,341.2 312.2,341.6 317.0,338.9 C321.8,336.2 320.4,335.5 323.3,335.4 C326.3,335.3 326.9,336.4 326.9,338.6 C326.9,340.8 326.3,340.3 323.3,342.7 C320.4,345.1 320.8,343.7 317.0,346.5 C313.1,349.4 314.4,349.3 310.6,352.3 C306.7,355.3 308.0,354.4 304.2,356.4 C300.4,358.5 301.2,358.0 297.8,359.0 C294.5,360.0 296.4,358.7 293.0,359.6 C289.7,360.5 290.0,359.9 286.6,362.0 C283.3,364.2 284.5,365.9 281.8,366.8 C279.2,367.8 279.3,367.4 277.9,365.2 C276.4,363.0 277.5,362.9 277.1,359.5 C276.6,356.1 275.1,357.0 276.3,353.9Z" fill="#7d7d7d" stroke="#d2d2d2" stroke-width="0.8"/>
<path d="M280.3,374.3 C281.5,369.8 280.9,371.6 283.8,369.2 C286.6,366.8 286.1,366.5 289.8,366.3 C293.6,366.1 293.8,366.2 296.2,368.6 C298.7,371.0 297.6,369.6 298.0,374.3 C298.4,379.0 303.0,381.2 297.5,384.2 C291.9,387.2 284.6,387.2 279.5,384.2 C274.3,381.2 279.0,378.8 280.3,374.3Z" fill="#7d7d7d" stroke="#d2d2d2" stroke-width="0.8"/>
<path d="M236.4,384.2 C228.8,380.9 236.3,378.3 238.0,373.0 C239.6,367.8 238.8,369.5 241.9,366.7 C245.1,363.8 244.5,364.2 248.3,363.5 C252.2,362.7 251.4,362.3 254.7,364.3 C258.1,366.2 257.3,366.3 259.5,369.8 C261.7,373.4 261.0,371.9 262.1,376.2 C263.1,380.5 270.7,381.8 263.0,384.2 C255.3,386.6 243.9,387.6 236.4,384.2Z" fill="#7d7d7d" stroke="#d2d2d2" stroke-width="0.8"/>
<path d="M241.9,384.2 C238.5,381.8 242.4,379.6 244.3,376.2 C246.3,372.9 245.7,373.5 248.3,373.0 C251.0,372.6 250.9,371.3 253.1,374.6 C255.3,378.0 259.0,381.3 255.7,384.2 C252.3,387.1 245.3,386.6 241.9,384.2Z" fill="#c2c2c2"/>
<path d="M244.3,384.2 C242.7,382.5 245.1,380.3 246.7,378.6 C248.4,376.9 248.2,376.9 249.9,378.6 C251.6,380.3 254.0,382.5 252.3,384.2 C250.6,385.9 246.0,385.9 244.3,384.2Z" fill="#7d7d7d" stroke="#d2d2d2" stroke-width="0.8"/>
<path d="M222.8,344.3 C224.0,334.6 224.9,343.0 226.8,345.9 C228.7,348.8 228.0,347.7 229.2,353.9 C230.4,360.1 230.0,360.0 230.8,366.7 C231.5,373.4 232.7,372.4 231.7,376.2 C230.8,380.1 230.3,379.0 227.6,379.6 C224.9,380.2 224.2,388.7 222.8,378.1 C221.4,367.6 221.6,354.0 222.8,344.3Z" fill="#7d7d7d" stroke="#d2d2d2" stroke-width="0.8"/>
<path d="M222.8,323.6 C224.0,320.4 225.1,321.5 226.8,322.0 C228.5,322.4 228.8,322.3 228.5,325.2 C228.3,328.0 227.7,329.3 226.0,331.5 C224.3,333.7 223.7,334.9 222.8,332.5 C221.8,330.1 221.6,326.7 222.8,323.6Z" fill="#7d7d7d" stroke="#d2d2d2" stroke-width="0.8"/>
<path d="M312.8,318.0 C312.3,315.1 313.3,314.5 316.0,314.0 C318.6,313.5 318.0,314.0 321.5,316.4 C325.1,318.8 323.4,319.1 327.9,322.0 C332.5,324.8 331.7,323.6 336.7,326.0 C341.7,328.3 339.9,326.6 344.7,329.9 C349.5,333.3 348.8,333.5 352.7,337.1 C356.6,340.7 357.1,340.0 357.6,341.9 C358.1,343.9 357.7,343.9 354.3,343.7 C350.9,343.5 350.6,342.2 346.3,341.3 C342.0,340.3 342.3,339.3 339.9,340.5 C337.5,341.7 340.2,343.4 338.3,345.3 C336.4,347.2 335.9,347.9 333.5,346.9 C331.1,345.9 331.8,345.6 330.3,341.9 C328.9,338.3 330.6,338.8 328.7,334.7 C326.8,330.7 327.3,331.7 323.9,328.3 C320.6,325.0 320.9,326.7 317.6,323.6 C314.2,320.4 313.2,320.8 312.8,318.0Z" fill="#7d7d7d" stroke="#d2d2d2" stroke-width="0.8"/>
<path d="M337.5,318.8 C338.5,316.9 338.4,316.5 341.5,315.6 C344.6,314.6 344.5,316.8 347.9,315.6 C351.2,314.4 349.8,312.5 352.7,311.6 C355.5,310.6 355.1,310.7 357.5,312.4 C359.9,314.1 357.8,314.5 360.7,317.2 C363.5,319.8 361.5,320.3 367.0,321.2 C372.5,322.0 375.4,314.2 379.0,320.0 C382.6,325.9 381.6,335.1 379.0,340.8 C376.4,346.4 374.8,341.2 370.2,338.9 C365.7,336.6 367.7,336.8 363.8,333.1 C360.0,329.5 361.3,329.9 357.5,326.8 C353.6,323.6 355.4,323.9 351.1,322.8 C346.8,321.6 346.9,323.2 343.1,322.9 C339.3,322.7 340.0,323.2 338.3,322.0 C336.6,320.7 336.6,320.7 337.5,318.8Z" fill="#7d7d7d" stroke="#d2d2d2" stroke-width="0.8"/>
<path d="M308.0,355.5 C309.4,353.6 309.5,352.9 311.2,353.9 C312.8,354.8 312.1,355.8 313.6,358.7 C315.0,361.5 313.3,361.3 316.0,363.5 C318.6,365.6 318.5,365.9 322.3,365.9 C326.2,365.9 324.4,365.6 328.7,363.5 C333.0,361.3 331.9,362.0 336.7,358.7 C341.5,355.3 340.4,355.9 344.7,352.3 C349.0,348.7 347.0,349.1 351.1,346.7 C355.1,344.3 354.6,344.1 358.3,344.3 C361.9,344.5 361.7,344.6 363.2,347.5 C364.7,350.4 364.5,350.1 363.2,353.9 C362.0,357.7 361.7,356.0 359.1,360.3 C356.4,364.6 357.6,363.9 354.3,368.3 C350.9,372.6 351.2,371.7 347.9,374.6 C344.5,377.6 345.5,377.5 343.1,378.0 C340.7,378.5 339.9,378.7 339.9,376.2 C339.9,373.8 340.2,374.2 343.1,369.8 C346.0,365.5 346.3,366.4 349.5,361.9 C352.6,357.3 353.2,357.1 353.6,354.7 C354.1,352.3 354.2,352.2 351.1,353.9 C347.9,355.6 347.9,356.4 343.1,360.3 C338.3,364.1 339.2,363.3 335.1,366.7 C331.0,370.0 331.9,368.1 329.5,371.4 C327.1,374.8 329.3,375.1 327.1,377.8 C325.0,380.5 326.2,380.8 322.3,380.4 C318.5,380.0 318.2,378.6 314.4,376.4 C310.5,374.2 312.0,376.0 309.6,373.0 C307.2,370.1 307.3,370.5 306.4,366.7 C305.4,362.8 305.9,363.6 306.4,360.3 C306.9,356.9 306.5,357.4 308.0,355.5Z" fill="#7d7d7d" stroke="#d2d2d2" stroke-width="0.8"/>
<path d="M366.2,348.3 C367.2,346.3 366.4,346.5 370.2,345.6 C374.1,344.7 376.4,342.7 379.0,345.3 C381.6,347.9 381.6,351.6 379.0,354.2 C376.4,356.8 373.8,354.6 370.2,354.0 C366.6,353.5 368.2,354.0 367.0,352.3 C365.8,350.6 365.3,350.3 366.2,348.3Z" fill="#7d7d7d" stroke="#d2d2d2" stroke-width="0.8"/>
<path d="M363.0,364.3 C364.2,360.9 364.7,361.0 367.8,360.3 C370.9,359.6 370.1,360.5 373.4,361.9 C376.8,363.2 377.3,360.2 379.0,364.7 C380.7,369.3 381.6,373.5 379.0,377.0 C376.4,380.5 374.8,378.1 370.2,376.4 C365.7,374.7 366.0,375.1 363.8,371.4 C361.7,367.8 361.9,367.6 363.0,364.3Z" fill="#7d7d7d" stroke="#d2d2d2" stroke-width="0.8"/>
<path d="M327.1,381.3 C328.6,379.8 329.1,379.2 331.9,378.6 C334.8,378.1 335.0,377.8 336.7,379.4 C338.4,381.0 340.5,382.6 337.7,383.9 C334.8,385.2 330.3,384.7 327.1,383.9 C324.0,383.1 325.7,382.9 327.1,381.3Z" fill="#7d7d7d" stroke="#d2d2d2" stroke-width="0.8"/>
<path d="M343.1,381.3 C344.5,380.0 344.5,379.5 347.9,379.4 C351.2,379.3 352.3,379.7 354.3,381.0 C356.3,382.4 357.9,383.0 354.6,383.9 C351.2,384.8 346.5,384.7 343.1,383.9 C339.6,383.1 341.7,382.7 343.1,381.3Z" fill="#7d7d7d" stroke="#d2d2d2" stroke-width="0.8"/>
<ellipse cx="249.9" cy="253.2" rx="1.4" ry="1.4" fill="#3c3c3c" opacity="0.8"/>
<ellipse cx="248.6" cy="271.1" rx="3.8" ry="3.2" fill="#3c3c3c" opacity="0.45"/>
<ellipse cx="316.0" cy="289.4" rx="5.4" ry="3.8" fill="#3c3c3c" opacity="0.5" transform="rotate(-25 316.0 289.4)"/>
<ellipse cx="360.7" cy="291.8" rx="3.5" ry="1.9" fill="#3c3c3c" opacity="0.3" transform="rotate(25 360.7 291.8)"/>
<ellipse cx="252.3" cy="321.2" rx="1.8" ry="1.4" fill="#3c3c3c" opacity="0.6"/>
<ellipse cx="248.6" cy="346.7" rx="1.3" ry="4.2" fill="#d8d8d8" opacity="0.7" transform="rotate(15 248.6 346.7)"/>
<ellipse cx="289.0" cy="373.0" rx="4.8" ry="4.5" fill="#3c3c3c" opacity="0.35"/>
<ellipse cx="333.8" cy="341.9" rx="1.9" ry="2.6" fill="#3c3c3c" opacity="0.6"/>
<ellipse cx="343.9" cy="339.5" rx="3.5" ry="1.0" fill="#d0d0d0" opacity="0.8" transform="rotate(5 343.9 339.5)"/>
<ellipse cx="370.2" cy="369.0" rx="4.5" ry="3.5" fill="#b0b0b0" opacity="0.6"/>
<ellipse cx="312.0" cy="367.5" rx="1.6" ry="3.2" fill="#3c3c3c" opacity="0.3"/>
<rect x="355.1" y="378.6" width="17.6" height="2.1" fill="#111"/>
</g>
<line x1="423.2" y1="229.5" x2="423.2" y2="377.75" stroke="#111" stroke-width="1.5" stroke-linecap="butt"/>
<line x1="422.45" y1="377" x2="508.5" y2="377" stroke="#111" stroke-width="1.5" stroke-linecap="butt"/>
<line x1="418.8" y1="233.75" x2="423.2" y2="233.75" stroke="#111" stroke-width="1.35" stroke-linecap="butt"/>
<text x="414.2" y="236.99" font-size="9" text-anchor="end" fill="#1a1a1a">6</text>
<line x1="418.8" y1="281.5" x2="423.2" y2="281.5" stroke="#111" stroke-width="1.35" stroke-linecap="butt"/>
<text x="414.2" y="284.74" font-size="9" text-anchor="end" fill="#1a1a1a">4</text>
<line x1="418.8" y1="329.25" x2="423.2" y2="329.25" stroke="#111" stroke-width="1.35" stroke-linecap="butt"/>
<text x="414.2" y="332.49" font-size="9" text-anchor="end" fill="#1a1a1a">2</text>
<line x1="418.8" y1="377" x2="423.2" y2="377" stroke="#111" stroke-width="1.35" stroke-linecap="butt"/>
<text x="414.2" y="380.24" font-size="9" text-anchor="end" fill="#1a1a1a">0</text>
<rect x="432" y="269.5" width="26" height="107.5" fill="#c8102e"/>
<rect x="474" y="324.3" width="26" height="52.7" fill="#164b88"/>
<line x1="445" y1="377" x2="445" y2="381" stroke="#111" stroke-width="1.35" stroke-linecap="butt"/>
<line x1="487" y1="377" x2="487" y2="381" stroke="#111" stroke-width="1.35" stroke-linecap="butt"/>
<path d="M444.5,247.45 L447.05,250 L444.5,252.55 L441.95,250 Z" fill="#fff" stroke="#111" stroke-width="1.05"/>
<path d="M438.8,254.95 L441.35,257.5 L438.8,260.05 L436.25,257.5 Z" fill="#fff" stroke="#111" stroke-width="1.05"/>
<path d="M450.8,257.95 L453.35,260.5 L450.8,263.05 L448.25,260.5 Z" fill="#fff" stroke="#111" stroke-width="1.05"/>
<path d="M444.5,268.75 L447.05,271.3 L444.5,273.85 L441.95,271.3 Z" fill="#fff" stroke="#111" stroke-width="1.05"/>
<path d="M444.5,276.25 L447.05,278.8 L444.5,281.35 L441.95,278.8 Z" fill="#fff" stroke="#111" stroke-width="1.05"/>
<path d="M444.5,292.95 L447.05,295.5 L444.5,298.05 L441.95,295.5 Z" fill="#fff" stroke="#111" stroke-width="1.05"/>
<path d="M487,301.25 L489.55,303.8 L487,306.35 L484.45,303.8 Z" fill="#fff" stroke="#111" stroke-width="1.05"/>
<path d="M481.3,311.75 L483.85,314.3 L481.3,316.85 L478.75,314.3 Z" fill="#fff" stroke="#111" stroke-width="1.05"/>
<path d="M493,307.45 L495.55,310 L493,312.55 L490.45,310 Z" fill="#fff" stroke="#111" stroke-width="1.05"/>
<path d="M487,331.95 L489.55,334.5 L487,337.05 L484.45,334.5 Z" fill="#fff" stroke="#111" stroke-width="1.05"/>
<path d="M487,349.95 L489.55,352.5 L487,355.05 L484.45,352.5 Z" fill="#fff" stroke="#111" stroke-width="1.05"/>
<line x1="444.7" y1="252" x2="444.7" y2="285" stroke="#111" stroke-width="1.12" stroke-linecap="butt"/>
<line x1="441.4" y1="252" x2="448" y2="252" stroke="#111" stroke-width="1.12" stroke-linecap="butt"/>
<line x1="441.4" y1="285" x2="448" y2="285" stroke="#111" stroke-width="1.12" stroke-linecap="butt"/>
<line x1="487" y1="303.8" x2="487" y2="345" stroke="#111" stroke-width="1.12" stroke-linecap="butt"/>
<line x1="483.7" y1="303.8" x2="490.3" y2="303.8" stroke="#111" stroke-width="1.12" stroke-linecap="butt"/>
<line x1="483.7" y1="345" x2="490.3" y2="345" stroke="#111" stroke-width="1.12" stroke-linecap="butt"/>
<line x1="445" y1="241.8" x2="487.5" y2="241.8" stroke="#111" stroke-width="1.25" stroke-linecap="butt"/>
<text x="466.25" y="240.7" font-size="9.5" text-anchor="middle" font-weight="bold" fill="#222">**</text>
<text transform="translate(401,303.5) rotate(-90) scale(0.8,1)" font-size="10.8" text-anchor="middle" fill="#111" stroke="#111" stroke-width="0.25">Insoluble <tspan class="ser" font-size="13">α</tspan>-globin</text>
<text x="445" y="394" font-size="9" text-anchor="middle" font-style="italic" fill="#1a1a1a">Hbb<tspan font-size="6.57" dy="-3.87">th3/+</tspan></text>
<text x="445" y="405.7" font-size="9" text-anchor="middle" fill="#1a1a1a">sing</text>
<text x="487" y="394" font-size="9" text-anchor="middle" font-style="italic" fill="#1a1a1a">Hbb<tspan font-size="6.57" dy="-3.87">th3/+</tspan></text>
<text x="487" y="405.7" font-size="9" text-anchor="middle" fill="#1a1a1a">diff</text>
<line x1="50" y1="448.4" x2="50" y2="624.95" stroke="#111" stroke-width="1.5" stroke-linecap="butt"/>
<line x1="49.25" y1="624.2" x2="218.5" y2="624.2" stroke="#111" stroke-width="1.5" stroke-linecap="butt"/>
<line x1="45.6" y1="452.9" x2="50" y2="452.9" stroke="#111" stroke-width="1.35" stroke-linecap="butt"/>
<text x="41" y="456.14" font-size="9" text-anchor="end" fill="#1a1a1a">1.5</text>
<line x1="45.6" y1="510" x2="50" y2="510" stroke="#111" stroke-width="1.35" stroke-linecap="butt"/>
<text x="41" y="513.24" font-size="9" text-anchor="end" fill="#1a1a1a">1.0</text>
<line x1="45.6" y1="567.1" x2="50" y2="567.1" stroke="#111" stroke-width="1.35" stroke-linecap="butt"/>
<text x="41" y="570.34" font-size="9" text-anchor="end" fill="#1a1a1a">0.5</text>
<line x1="45.6" y1="624.2" x2="50" y2="624.2" stroke="#111" stroke-width="1.35" stroke-linecap="butt"/>
<text x="41" y="627.44" font-size="9" text-anchor="end" fill="#1a1a1a">0.0</text>
<text x="134" y="440.6" font-size="12.3" text-anchor="middle" fill="#1a1a1a">BM Ter119<tspan font-size="9" dy="-5">+</tspan></text>
<rect x="63" y="583.6" width="25.2" height="40.6" fill="#c8102e"/>
<rect x="102" y="576" width="25.1" height="48.2" fill="#164b88"/>
<rect x="141" y="532.1" width="25.3" height="92.1" fill="#3aaa35"/>
<rect x="180.2" y="511.3" width="25" height="112.9" fill="#5e2168"/>
<line x1="75.6" y1="624.2" x2="75.6" y2="628.2" stroke="#111" stroke-width="1.35" stroke-linecap="butt"/>
<line x1="114.5" y1="624.2" x2="114.5" y2="628.2" stroke="#111" stroke-width="1.35" stroke-linecap="butt"/>
<line x1="153.7" y1="624.2" x2="153.7" y2="628.2" stroke="#111" stroke-width="1.35" stroke-linecap="butt"/>
<line x1="192.7" y1="624.2" x2="192.7" y2="628.2" stroke="#111" stroke-width="1.35" stroke-linecap="butt"/>
<line x1="75.6" y1="578.6" x2="75.6" y2="584" stroke="#111" stroke-width="1.12" stroke-linecap="butt"/>
<line x1="72.3" y1="578.6" x2="78.9" y2="578.6" stroke="#111" stroke-width="1.12" stroke-linecap="butt"/>
<line x1="114.5" y1="572.5" x2="114.5" y2="576" stroke="#111" stroke-width="1.12" stroke-linecap="butt"/>
<line x1="111.2" y1="572.5" x2="117.8" y2="572.5" stroke="#111" stroke-width="1.12" stroke-linecap="butt"/>
<line x1="153.8" y1="518.9" x2="153.8" y2="544.3" stroke="#111" stroke-width="1.12" stroke-linecap="butt"/>
<line x1="150.5" y1="518.9" x2="157.1" y2="518.9" stroke="#111" stroke-width="1.12" stroke-linecap="butt"/>
<line x1="150.5" y1="544.3" x2="157.1" y2="544.3" stroke="#111" stroke-width="1.12" stroke-linecap="butt"/>
<line x1="192.8" y1="490.2" x2="192.8" y2="530.8" stroke="#111" stroke-width="1.12" stroke-linecap="butt"/>
<line x1="189.5" y1="490.2" x2="196.1" y2="490.2" stroke="#111" stroke-width="1.12" stroke-linecap="butt"/>
<line x1="189.5" y1="530.8" x2="196.1" y2="530.8" stroke="#111" stroke-width="1.12" stroke-linecap="butt"/>
<path d="M66.5,575.9 L69.6,579 L66.5,582.1 L63.4,579 Z" fill="#fff" stroke="#111" stroke-width="1.25"/>
<path d="M66.5,585.6 L69.6,588.7 L66.5,591.8 L63.4,588.7 Z" fill="#fff" stroke="#111" stroke-width="1.25"/>
<path d="M75.6,581.3 L78.7,584.4 L75.6,587.5 L72.5,584.4 Z" fill="#fff" stroke="#111" stroke-width="1.25"/>
<path d="M85.5,574.7 L88.6,577.8 L85.5,580.9 L82.4,577.8 Z" fill="#fff" stroke="#111" stroke-width="1.25"/>
<path d="M85.5,582.3 L88.6,585.4 L85.5,588.5 L82.4,585.4 Z" fill="#fff" stroke="#111" stroke-width="1.25"/>
<path d="M105.3,572.2 L108.4,575.3 L105.3,578.4 L102.2,575.3 Z" fill="#fff" stroke="#111" stroke-width="1.25"/>
<path d="M110.4,568.3 L113.5,571.4 L110.4,574.5 L107.3,571.4 Z" fill="#fff" stroke="#111" stroke-width="1.25"/>
<path d="M114.7,571.6 L117.8,574.7 L114.7,577.8 L111.6,574.7 Z" fill="#fff" stroke="#111" stroke-width="1.25"/>
<path d="M119.8,568.6 L122.9,571.7 L119.8,574.8 L116.7,571.7 Z" fill="#fff" stroke="#111" stroke-width="1.25"/>
<path d="M124.4,573.4 L127.5,576.5 L124.4,579.6 L121.3,576.5 Z" fill="#fff" stroke="#111" stroke-width="1.25"/>
<path d="M144.1,517.9 L147.2,521 L144.1,524.1 L141,521 Z" fill="#fff" stroke="#111" stroke-width="1.25"/>
<path d="M144.1,526.5 L147.2,529.6 L144.1,532.7 L141,529.6 Z" fill="#fff" stroke="#111" stroke-width="1.25"/>
<path d="M163.7,518.3 L166.8,521.4 L163.7,524.5 L160.6,521.4 Z" fill="#fff" stroke="#111" stroke-width="1.25"/>
<path d="M163.7,532.3 L166.8,535.4 L163.7,538.5 L160.6,535.4 Z" fill="#fff" stroke="#111" stroke-width="1.25"/>
<path d="M153.8,548.1 L156.9,551.2 L153.8,554.3 L150.7,551.2 Z" fill="#fff" stroke="#111" stroke-width="1.25"/>
<path d="M192.8,473.2 L195.9,476.3 L192.8,479.4 L189.7,476.3 Z" fill="#fff" stroke="#111" stroke-width="1.25"/>
<path d="M183,512.5 L186.1,515.6 L183,518.7 L179.9,515.6 Z" fill="#fff" stroke="#111" stroke-width="1.25"/>
<path d="M202,506.9 L205.1,510 L202,513.1 L198.9,510 Z" fill="#fff" stroke="#111" stroke-width="1.25"/>
<path d="M183,522.9 L186.1,526 L183,529.1 L179.9,526 Z" fill="#fff" stroke="#111" stroke-width="1.25"/>
<path d="M202,520.9 L205.1,524 L202,527.1 L198.9,524 Z" fill="#fff" stroke="#111" stroke-width="1.25"/>
<line x1="76" y1="558.7" x2="115" y2="558.7" stroke="#111" stroke-width="1.25" stroke-linecap="butt"/>
<text x="95.5" y="557.6" font-size="9.5" text-anchor="middle" font-weight="bold" fill="#222">**</text>
<line x1="153.8" y1="467.6" x2="192.8" y2="467.6" stroke="#111" stroke-width="1.25" stroke-linecap="butt"/>
<text x="173.3" y="464.5" font-size="8.6" text-anchor="middle" fill="#1a1a1a">ns</text>
<text transform="translate(21,535.5) rotate(-90) scale(0.78,1)" font-size="10.8" text-anchor="middle" fill="#111" stroke="#111" stroke-width="0.25"><tspan font-style="italic">Hbb/Hba</tspan> mRNA</text>
<text x="75.6" y="641.8" font-size="9" text-anchor="middle" font-style="italic" fill="#1a1a1a">Hbb<tspan font-size="6.57" dy="-3.87">th3/+</tspan></text>
<text x="75.6" y="652.5" font-size="9" text-anchor="middle" fill="#1a1a1a">sing</text>
<text x="114.5" y="641.8" font-size="9" text-anchor="middle" font-style="italic" fill="#1a1a1a">Hbb<tspan font-size="6.57" dy="-3.87">th3/+</tspan></text>
<text x="114.5" y="652.5" font-size="9" text-anchor="middle" fill="#1a1a1a">diff</text>
<text x="153.7" y="641.8" font-size="9" text-anchor="middle" font-style="italic" fill="#1a1a1a">Hbb<tspan font-size="6.57" dy="-3.87">+/+</tspan></text>
<text x="153.7" y="652.5" font-size="9" text-anchor="middle" fill="#1a1a1a">sing</text>
<text x="192.7" y="641.8" font-size="9" text-anchor="middle" font-style="italic" fill="#1a1a1a">Hbb<tspan font-size="6.57" dy="-3.87">+/+</tspan></text>
<text x="192.7" y="652.5" font-size="9" text-anchor="middle" fill="#1a1a1a">diff</text>
<line x1="254.8" y1="448.4" x2="254.8" y2="624.95" stroke="#111" stroke-width="1.5" stroke-linecap="butt"/>
<line x1="254.05" y1="624.2" x2="423.8" y2="624.2" stroke="#111" stroke-width="1.5" stroke-linecap="butt"/>
<line x1="250.4" y1="452.9" x2="254.8" y2="452.9" stroke="#111" stroke-width="1.35" stroke-linecap="butt"/>
<text x="245.8" y="456.14" font-size="9" text-anchor="end" fill="#1a1a1a">1.5</text>
<line x1="250.4" y1="510" x2="254.8" y2="510" stroke="#111" stroke-width="1.35" stroke-linecap="butt"/>
<text x="245.8" y="513.24" font-size="9" text-anchor="end" fill="#1a1a1a">1.0</text>
<line x1="250.4" y1="567.1" x2="254.8" y2="567.1" stroke="#111" stroke-width="1.35" stroke-linecap="butt"/>
<text x="245.8" y="570.34" font-size="9" text-anchor="end" fill="#1a1a1a">0.5</text>
<line x1="250.4" y1="624.2" x2="254.8" y2="624.2" stroke="#111" stroke-width="1.35" stroke-linecap="butt"/>
<text x="245.8" y="627.44" font-size="9" text-anchor="end" fill="#1a1a1a">0.0</text>
<text x="338.8" y="440.6" font-size="12.2" text-anchor="middle" fill="#1a1a1a">Spleen Ter119<tspan font-size="9" dy="-5">+</tspan></text>
<rect x="268" y="577.3" width="25" height="46.9" fill="#c8102e"/>
<rect x="306.8" y="569.2" width="25" height="55" fill="#164b88"/>
<rect x="345.6" y="543" width="25.1" height="81.2" fill="#3aaa35"/>
<rect x="384.4" y="510.8" width="25" height="113.4" fill="#5e2168"/>
<line x1="280.6" y1="624.2" x2="280.6" y2="628.2" stroke="#111" stroke-width="1.35" stroke-linecap="butt"/>
<line x1="319.3" y1="624.2" x2="319.3" y2="628.2" stroke="#111" stroke-width="1.35" stroke-linecap="butt"/>
<line x1="358.2" y1="624.2" x2="358.2" y2="628.2" stroke="#111" stroke-width="1.35" stroke-linecap="butt"/>
<line x1="397" y1="624.2" x2="397" y2="628.2" stroke="#111" stroke-width="1.35" stroke-linecap="butt"/>
<line x1="280.6" y1="573" x2="280.6" y2="577.5" stroke="#111" stroke-width="1.12" stroke-linecap="butt"/>
<line x1="277.3" y1="573" x2="283.9" y2="573" stroke="#111" stroke-width="1.12" stroke-linecap="butt"/>
<line x1="319.3" y1="565.5" x2="319.3" y2="569.5" stroke="#111" stroke-width="1.12" stroke-linecap="butt"/>
<line x1="316" y1="565.5" x2="322.6" y2="565.5" stroke="#111" stroke-width="1.12" stroke-linecap="butt"/>
<line x1="358.1" y1="535.2" x2="358.1" y2="548.6" stroke="#111" stroke-width="1.12" stroke-linecap="butt"/>
<line x1="354.8" y1="535.2" x2="361.4" y2="535.2" stroke="#111" stroke-width="1.12" stroke-linecap="butt"/>
<line x1="354.8" y1="548.6" x2="361.4" y2="548.6" stroke="#111" stroke-width="1.12" stroke-linecap="butt"/>
<line x1="397.1" y1="491.8" x2="397.1" y2="528.3" stroke="#111" stroke-width="1.12" stroke-linecap="butt"/>
<line x1="393.8" y1="491.8" x2="400.4" y2="491.8" stroke="#111" stroke-width="1.12" stroke-linecap="butt"/>
<line x1="393.8" y1="528.3" x2="400.4" y2="528.3" stroke="#111" stroke-width="1.12" stroke-linecap="butt"/>
<path d="M270.5,567.3 L273.6,570.4 L270.5,573.5 L267.4,570.4 Z" fill="#fff" stroke="#111" stroke-width="1.25"/>
<path d="M270.5,577.2 L273.6,580.3 L270.5,583.4 L267.4,580.3 Z" fill="#fff" stroke="#111" stroke-width="1.25"/>
<path d="M276.9,572.2 L280,575.3 L276.9,578.4 L273.8,575.3 Z" fill="#fff" stroke="#111" stroke-width="1.25"/>
<path d="M283.2,573.7 L286.3,576.8 L283.2,579.9 L280.1,576.8 Z" fill="#fff" stroke="#111" stroke-width="1.25"/>
<path d="M289.6,573.4 L292.7,576.5 L289.6,579.6 L286.5,576.5 Z" fill="#fff" stroke="#111" stroke-width="1.25"/>
<path d="M309.4,565.3 L312.5,568.4 L309.4,571.5 L306.3,568.4 Z" fill="#fff" stroke="#111" stroke-width="1.25"/>
<path d="M314.2,560.2 L317.3,563.3 L314.2,566.4 L311.1,563.3 Z" fill="#fff" stroke="#111" stroke-width="1.25"/>
<path d="M318.8,563.3 L321.9,566.4 L318.8,569.5 L315.7,566.4 Z" fill="#fff" stroke="#111" stroke-width="1.25"/>
<path d="M323.8,560.5 L326.9,563.6 L323.8,566.7 L320.7,563.6 Z" fill="#fff" stroke="#111" stroke-width="1.25"/>
<path d="M328.9,566.1 L332,569.2 L328.9,572.3 L325.8,569.2 Z" fill="#fff" stroke="#111" stroke-width="1.25"/>
<path d="M348.4,530.3 L351.5,533.4 L348.4,536.5 L345.3,533.4 Z" fill="#fff" stroke="#111" stroke-width="1.25"/>
<path d="M348.4,538.3 L351.5,541.4 L348.4,544.5 L345.3,541.4 Z" fill="#fff" stroke="#111" stroke-width="1.25"/>
<path d="M348.4,548 L351.5,551.1 L348.4,554.2 L345.3,551.1 Z" fill="#fff" stroke="#111" stroke-width="1.25"/>
<path d="M367.4,535.4 L370.5,538.5 L367.4,541.6 L364.3,538.5 Z" fill="#fff" stroke="#111" stroke-width="1.25"/>
<path d="M367.4,541.9 L370.5,545 L367.4,548.1 L364.3,545 Z" fill="#fff" stroke="#111" stroke-width="1.25"/>
<path d="M397.1,474.7 L400.2,477.8 L397.1,480.9 L394,477.8 Z" fill="#fff" stroke="#111" stroke-width="1.25"/>
<path d="M387.5,517.1 L390.6,520.2 L387.5,523.3 L384.4,520.2 Z" fill="#fff" stroke="#111" stroke-width="1.25"/>
<path d="M393.8,512 L396.9,515.1 L393.8,518.2 L390.7,515.1 Z" fill="#fff" stroke="#111" stroke-width="1.25"/>
<path d="M400.2,515.1 L403.3,518.2 L400.2,521.3 L397.1,518.2 Z" fill="#fff" stroke="#111" stroke-width="1.25"/>
<path d="M406.5,515.3 L409.6,518.4 L406.5,521.5 L403.4,518.4 Z" fill="#fff" stroke="#111" stroke-width="1.25"/>
<line x1="277.4" y1="538.2" x2="316.7" y2="538.2" stroke="#111" stroke-width="1.25" stroke-linecap="butt"/>
<text x="297.05" y="537.1" font-size="9.5" text-anchor="middle" font-weight="bold" fill="#222">**</text>
<line x1="358.5" y1="466.7" x2="397.9" y2="466.7" stroke="#111" stroke-width="1.25" stroke-linecap="butt"/>
<text x="378.2" y="465.6" font-size="9.5" text-anchor="middle" font-weight="bold" fill="#222">**</text>
<text x="280.6" y="641.8" font-size="9" text-anchor="middle" font-style="italic" fill="#1a1a1a">Hbb<tspan font-size="6.57" dy="-3.87">th3/+</tspan></text>
<text x="280.6" y="652.5" font-size="9" text-anchor="middle" fill="#1a1a1a">sing</text>
<text x="319.3" y="641.8" font-size="9" text-anchor="middle" font-style="italic" fill="#1a1a1a">Hbb<tspan font-size="6.57" dy="-3.87">th3/+</tspan></text>
<text x="319.3" y="652.5" font-size="9" text-anchor="middle" fill="#1a1a1a">diff</text>
<text x="358.2" y="641.8" font-size="9" text-anchor="middle" font-style="italic" fill="#1a1a1a">Hbb<tspan font-size="6.57" dy="-3.87">+/+</tspan></text>
<text x="358.2" y="652.5" font-size="9" text-anchor="middle" fill="#1a1a1a">sing</text>
<text x="397" y="641.8" font-size="9" text-anchor="middle" font-style="italic" fill="#1a1a1a">Hbb<tspan font-size="6.57" dy="-3.87">+/+</tspan></text>
<text x="397" y="652.5" font-size="9" text-anchor="middle" fill="#1a1a1a">diff</text>
<line x1="50" y1="695" x2="50" y2="858.45" stroke="#111" stroke-width="1.5" stroke-linecap="butt"/>
<line x1="49.25" y1="857.7" x2="253" y2="857.7" stroke="#111" stroke-width="1.5" stroke-linecap="butt"/>
<line x1="45.6" y1="700.08" x2="50" y2="700.08" stroke="#111" stroke-width="1.35" stroke-linecap="butt"/>
<text x="41" y="703.32" font-size="9" text-anchor="end" fill="#1a1a1a">0.6</text>
<line x1="45.6" y1="752.62" x2="50" y2="752.62" stroke="#111" stroke-width="1.35" stroke-linecap="butt"/>
<text x="41" y="755.86" font-size="9" text-anchor="end" fill="#1a1a1a">0.4</text>
<line x1="45.6" y1="805.16" x2="50" y2="805.16" stroke="#111" stroke-width="1.35" stroke-linecap="butt"/>
<text x="41" y="808.4" font-size="9" text-anchor="end" fill="#1a1a1a">0.2</text>
<line x1="45.6" y1="857.7" x2="50" y2="857.7" stroke="#111" stroke-width="1.35" stroke-linecap="butt"/>
<text x="41" y="860.94" font-size="9" text-anchor="end" fill="#1a1a1a">0.0</text>
<text x="151.5" y="688" font-size="12.2" text-anchor="middle" fill="#1a1a1a">BM</text>
<rect x="61.7" y="739.5" width="18.8" height="118.2" fill="#c8102e"/>
<rect x="93.5" y="739" width="18.8" height="118.7" fill="#164b88"/>
<rect x="125.7" y="756.7" width="18.8" height="101" fill="#c8102e"/>
<rect x="157.6" y="736.2" width="18.8" height="121.5" fill="#164b88"/>
<rect x="189.4" y="750.4" width="18.8" height="107.3" fill="#c8102e"/>
<rect x="221.1" y="736.9" width="18.8" height="120.8" fill="#164b88"/>
<line x1="71.1" y1="857.7" x2="71.1" y2="861.7" stroke="#111" stroke-width="1.35" stroke-linecap="butt"/>
<line x1="103" y1="857.7" x2="103" y2="861.7" stroke="#111" stroke-width="1.35" stroke-linecap="butt"/>
<line x1="135" y1="857.7" x2="135" y2="861.7" stroke="#111" stroke-width="1.35" stroke-linecap="butt"/>
<line x1="167" y1="857.7" x2="167" y2="861.7" stroke="#111" stroke-width="1.35" stroke-linecap="butt"/>
<line x1="198.8" y1="857.7" x2="198.8" y2="861.7" stroke="#111" stroke-width="1.35" stroke-linecap="butt"/>
<line x1="230.6" y1="857.7" x2="230.6" y2="861.7" stroke="#111" stroke-width="1.35" stroke-linecap="butt"/>
<line x1="71.3" y1="732.3" x2="71.3" y2="746.5" stroke="#111" stroke-width="1.12" stroke-linecap="butt"/>
<line x1="68" y1="732.3" x2="74.6" y2="732.3" stroke="#111" stroke-width="1.12" stroke-linecap="butt"/>
<line x1="68" y1="746.5" x2="74.6" y2="746.5" stroke="#111" stroke-width="1.12" stroke-linecap="butt"/>
<line x1="103" y1="725.5" x2="103" y2="752" stroke="#111" stroke-width="1.12" stroke-linecap="butt"/>
<line x1="99.7" y1="725.5" x2="106.3" y2="725.5" stroke="#111" stroke-width="1.12" stroke-linecap="butt"/>
<line x1="99.7" y1="752" x2="106.3" y2="752" stroke="#111" stroke-width="1.12" stroke-linecap="butt"/>
<line x1="135.2" y1="750.5" x2="135.2" y2="758" stroke="#111" stroke-width="1.12" stroke-linecap="butt"/>
<line x1="131.9" y1="750.5" x2="138.5" y2="750.5" stroke="#111" stroke-width="1.12" stroke-linecap="butt"/>
<line x1="131.9" y1="758" x2="138.5" y2="758" stroke="#111" stroke-width="1.12" stroke-linecap="butt"/>
<line x1="167" y1="729.8" x2="167" y2="741.2" stroke="#111" stroke-width="1.12" stroke-linecap="butt"/>
<line x1="163.7" y1="729.8" x2="170.3" y2="729.8" stroke="#111" stroke-width="1.12" stroke-linecap="butt"/>
<line x1="163.7" y1="741.2" x2="170.3" y2="741.2" stroke="#111" stroke-width="1.12" stroke-linecap="butt"/>
<line x1="198.9" y1="741.5" x2="198.9" y2="759.8" stroke="#111" stroke-width="1.12" stroke-linecap="butt"/>
<line x1="195.6" y1="741.5" x2="202.2" y2="741.5" stroke="#111" stroke-width="1.12" stroke-linecap="butt"/>
<line x1="195.6" y1="759.8" x2="202.2" y2="759.8" stroke="#111" stroke-width="1.12" stroke-linecap="butt"/>
<line x1="230.7" y1="734.5" x2="230.7" y2="741.5" stroke="#111" stroke-width="1.12" stroke-linecap="butt"/>
<line x1="227.4" y1="734.5" x2="234" y2="734.5" stroke="#111" stroke-width="1.12" stroke-linecap="butt"/>
<line x1="227.4" y1="741.5" x2="234" y2="741.5" stroke="#111" stroke-width="1.12" stroke-linecap="butt"/>
<path d="M64,728.7 L67.1,731.8 L64,734.9 L60.9,731.8 Z" fill="#fff" stroke="#111" stroke-width="1.25"/>
<path d="M71.1,735.1 L74.2,738.2 L71.1,741.3 L68,738.2 Z" fill="#fff" stroke="#111" stroke-width="1.25"/>
<path d="M78.7,734.6 L81.8,737.7 L78.7,740.8 L75.6,737.7 Z" fill="#fff" stroke="#111" stroke-width="1.25"/>
<path d="M71.3,745.2 L74.4,748.3 L71.3,751.4 L68.2,748.3 Z" fill="#fff" stroke="#111" stroke-width="1.25"/>
<path d="M103,719.1 L106.1,722.2 L103,725.3 L99.9,722.2 Z" fill="#fff" stroke="#111" stroke-width="1.25"/>
<path d="M103,731.8 L106.1,734.9 L103,738 L99.9,734.9 Z" fill="#fff" stroke="#111" stroke-width="1.25"/>
<path d="M103,739.7 L106.1,742.8 L103,745.9 L99.9,742.8 Z" fill="#fff" stroke="#111" stroke-width="1.25"/>
<path d="M103,749.5 L106.1,752.6 L103,755.7 L99.9,752.6 Z" fill="#fff" stroke="#111" stroke-width="1.25"/>
<path d="M127.6,752.9 L130.7,756 L127.6,759.1 L124.5,756 Z" fill="#fff" stroke="#111" stroke-width="1.25"/>
<path d="M135.2,751.1 L138.3,754.2 L135.2,757.3 L132.1,754.2 Z" fill="#fff" stroke="#111" stroke-width="1.25"/>
<path d="M142.3,745.2 L145.4,748.3 L142.3,751.4 L139.2,748.3 Z" fill="#fff" stroke="#111" stroke-width="1.25"/>
<path d="M142.8,752.1 L145.9,755.2 L142.8,758.3 L139.7,755.2 Z" fill="#fff" stroke="#111" stroke-width="1.25"/>
<path d="M159.3,728.7 L162.4,731.8 L159.3,734.9 L156.2,731.8 Z" fill="#fff" stroke="#111" stroke-width="1.25"/>
<path d="M159.3,737.1 L162.4,740.2 L159.3,743.3 L156.2,740.2 Z" fill="#fff" stroke="#111" stroke-width="1.25"/>
<path d="M174.6,726.2 L177.7,729.3 L174.6,732.4 L171.5,729.3 Z" fill="#fff" stroke="#111" stroke-width="1.25"/>
<path d="M173.8,733.1 L176.9,736.2 L173.8,739.3 L170.7,736.2 Z" fill="#fff" stroke="#111" stroke-width="1.25"/>
<path d="M191.8,741.9 L194.9,745 L191.8,748.1 L188.7,745 Z" fill="#fff" stroke="#111" stroke-width="1.25"/>
<path d="M206.3,738.9 L209.4,742 L206.3,745.1 L203.2,742 Z" fill="#fff" stroke="#111" stroke-width="1.25"/>
<path d="M206.3,747.3 L209.4,750.4 L206.3,753.5 L203.2,750.4 Z" fill="#fff" stroke="#111" stroke-width="1.25"/>
<path d="M198.9,757.4 L202,760.5 L198.9,763.6 L195.8,760.5 Z" fill="#fff" stroke="#111" stroke-width="1.25"/>
<path d="M223.3,729.5 L226.4,732.6 L223.3,735.7 L220.2,732.6 Z" fill="#fff" stroke="#111" stroke-width="1.25"/>
<path d="M223.3,737.6 L226.4,740.7 L223.3,743.8 L220.2,740.7 Z" fill="#fff" stroke="#111" stroke-width="1.25"/>
<path d="M230.9,730 L234,733.1 L230.9,736.2 L227.8,733.1 Z" fill="#fff" stroke="#111" stroke-width="1.25"/>
<path d="M238,733.1 L241.1,736.2 L238,739.3 L234.9,736.2 Z" fill="#fff" stroke="#111" stroke-width="1.25"/>
<line x1="65.8" y1="714.3" x2="104" y2="714.3" stroke="#111" stroke-width="1.25" stroke-linecap="butt"/>
<text x="84.9" y="711.2" font-size="8.6" text-anchor="middle" fill="#1a1a1a">ns</text>
<line x1="131.9" y1="724.2" x2="169.5" y2="724.2" stroke="#111" stroke-width="1.25" stroke-linecap="butt"/>
<text x="150.7" y="723.1" font-size="9.5" text-anchor="middle" font-weight="bold" fill="#222">***</text>
<line x1="194.9" y1="724.9" x2="232.4" y2="724.9" stroke="#111" stroke-width="1.25" stroke-linecap="butt"/>
<text x="213.65" y="723.8" font-size="9.5" text-anchor="middle" font-weight="bold" fill="#222">*</text>
<text transform="translate(21,775) rotate(-90) scale(0.78,1)" font-size="10.8" text-anchor="middle" fill="#111" stroke="#111" stroke-width="0.25"><tspan font-style="italic">Hbb/Hba</tspan> mRNA</text>
<text x="71.1" y="874.8" font-size="9" text-anchor="middle" fill="#1a1a1a">sing</text>
<text x="103" y="874.8" font-size="9" text-anchor="middle" fill="#1a1a1a">diff</text>
<text x="135" y="874.8" font-size="9" text-anchor="middle" fill="#1a1a1a">sing</text>
<text x="167" y="874.8" font-size="9" text-anchor="middle" fill="#1a1a1a">diff</text>
<text x="198.8" y="874.8" font-size="9" text-anchor="middle" fill="#1a1a1a">sing</text>
<text x="230.6" y="874.8" font-size="9" text-anchor="middle" fill="#1a1a1a">diff</text>
<line x1="57.1" y1="881.4" x2="115" y2="881.4" stroke="#1a1a1a" stroke-width="1.2" stroke-linecap="butt"/>
<text x="86.05" y="893.6" font-size="9" text-anchor="middle" font-style="italic" fill="#1a1a1a"><tspan font-style="normal">Ery.A </tspan>Hbb<tspan font-size="6.57" dy="-3.87">th3/+</tspan></text>
<line x1="122.5" y1="881.4" x2="179.6" y2="881.4" stroke="#1a1a1a" stroke-width="1.2" stroke-linecap="butt"/>
<text x="151.05" y="893.6" font-size="9" text-anchor="middle" font-style="italic" fill="#1a1a1a"><tspan font-style="normal">Ery.B </tspan>Hbb<tspan font-size="6.57" dy="-3.87">th3/+</tspan></text>
<line x1="186.5" y1="881.4" x2="243.6" y2="881.4" stroke="#1a1a1a" stroke-width="1.2" stroke-linecap="butt"/>
<text x="215.05" y="893.6" font-size="9" text-anchor="middle" font-style="italic" fill="#1a1a1a"><tspan font-style="normal">retic </tspan>Hbb<tspan font-size="6.57" dy="-3.87">th3/+</tspan></text>
<line x1="307.5" y1="695" x2="307.5" y2="858.45" stroke="#111" stroke-width="1.5" stroke-linecap="butt"/>
<line x1="306.75" y1="857.7" x2="510" y2="857.7" stroke="#111" stroke-width="1.5" stroke-linecap="butt"/>
<line x1="303.1" y1="700.05" x2="307.5" y2="700.05" stroke="#111" stroke-width="1.35" stroke-linecap="butt"/>
<text x="298.5" y="703.29" font-size="9" text-anchor="end" fill="#1a1a1a">1.5</text>
<line x1="303.1" y1="752.6" x2="307.5" y2="752.6" stroke="#111" stroke-width="1.35" stroke-linecap="butt"/>
<text x="298.5" y="755.84" font-size="9" text-anchor="end" fill="#1a1a1a">1.0</text>
<line x1="303.1" y1="805.15" x2="307.5" y2="805.15" stroke="#111" stroke-width="1.35" stroke-linecap="butt"/>
<text x="298.5" y="808.39" font-size="9" text-anchor="end" fill="#1a1a1a">0.5</text>
<line x1="303.1" y1="857.7" x2="307.5" y2="857.7" stroke="#111" stroke-width="1.35" stroke-linecap="butt"/>
<text x="298.5" y="860.94" font-size="9" text-anchor="end" fill="#1a1a1a">0.0</text>
<text x="409" y="688" font-size="12.2" text-anchor="middle" fill="#1a1a1a">BM</text>
<rect x="319" y="762.3" width="18.8" height="95.4" fill="#c8102e"/>
<rect x="351" y="740.7" width="18.8" height="117" fill="#164b88"/>
<rect x="382.6" y="790.2" width="18.8" height="67.5" fill="#c8102e"/>
<rect x="414.7" y="759.2" width="18.8" height="98.5" fill="#164b88"/>
<rect x="446.4" y="780.8" width="18.8" height="76.9" fill="#c8102e"/>
<rect x="478.2" y="751.4" width="18.8" height="106.3" fill="#164b88"/>
<line x1="328.4" y1="857.7" x2="328.4" y2="861.7" stroke="#111" stroke-width="1.35" stroke-linecap="butt"/>
<line x1="360.3" y1="857.7" x2="360.3" y2="861.7" stroke="#111" stroke-width="1.35" stroke-linecap="butt"/>
<line x1="392" y1="857.7" x2="392" y2="861.7" stroke="#111" stroke-width="1.35" stroke-linecap="butt"/>
<line x1="424" y1="857.7" x2="424" y2="861.7" stroke="#111" stroke-width="1.35" stroke-linecap="butt"/>
<line x1="455.6" y1="857.7" x2="455.6" y2="861.7" stroke="#111" stroke-width="1.35" stroke-linecap="butt"/>
<line x1="487.5" y1="857.7" x2="487.5" y2="861.7" stroke="#111" stroke-width="1.35" stroke-linecap="butt"/>
<line x1="328.6" y1="731.8" x2="328.6" y2="789" stroke="#111" stroke-width="1.12" stroke-linecap="butt"/>
<line x1="325.3" y1="731.8" x2="331.9" y2="731.8" stroke="#111" stroke-width="1.12" stroke-linecap="butt"/>
<line x1="325.3" y1="789" x2="331.9" y2="789" stroke="#111" stroke-width="1.12" stroke-linecap="butt"/>
<line x1="360.4" y1="715.9" x2="360.4" y2="766" stroke="#111" stroke-width="1.12" stroke-linecap="butt"/>
<line x1="357.1" y1="715.9" x2="363.7" y2="715.9" stroke="#111" stroke-width="1.12" stroke-linecap="butt"/>
<line x1="357.1" y1="766" x2="363.7" y2="766" stroke="#111" stroke-width="1.12" stroke-linecap="butt"/>
<line x1="391.9" y1="782.6" x2="391.9" y2="795.3" stroke="#111" stroke-width="1.12" stroke-linecap="butt"/>
<line x1="388.6" y1="782.6" x2="395.2" y2="782.6" stroke="#111" stroke-width="1.12" stroke-linecap="butt"/>
<line x1="388.6" y1="795.3" x2="395.2" y2="795.3" stroke="#111" stroke-width="1.12" stroke-linecap="butt"/>
<line x1="423.9" y1="751.4" x2="423.9" y2="766" stroke="#111" stroke-width="1.12" stroke-linecap="butt"/>
<line x1="420.6" y1="751.4" x2="427.2" y2="751.4" stroke="#111" stroke-width="1.12" stroke-linecap="butt"/>
<line x1="420.6" y1="766" x2="427.2" y2="766" stroke="#111" stroke-width="1.12" stroke-linecap="butt"/>
<line x1="455.4" y1="769.1" x2="455.4" y2="790.7" stroke="#111" stroke-width="1.12" stroke-linecap="butt"/>
<line x1="452.1" y1="769.1" x2="458.7" y2="769.1" stroke="#111" stroke-width="1.12" stroke-linecap="butt"/>
<line x1="452.1" y1="790.7" x2="458.7" y2="790.7" stroke="#111" stroke-width="1.12" stroke-linecap="butt"/>
<line x1="487.4" y1="736.4" x2="487.4" y2="764.8" stroke="#111" stroke-width="1.12" stroke-linecap="butt"/>
<line x1="484.1" y1="736.4" x2="490.7" y2="736.4" stroke="#111" stroke-width="1.12" stroke-linecap="butt"/>
<line x1="484.1" y1="764.8" x2="490.7" y2="764.8" stroke="#111" stroke-width="1.12" stroke-linecap="butt"/>
<path d="M328.6,733.3 L331.7,736.4 L328.6,739.5 L325.5,736.4 Z" fill="#fff" stroke="#111" stroke-width="1.25"/>
<path d="M321,748.6 L324.1,751.7 L321,754.8 L317.9,751.7 Z" fill="#fff" stroke="#111" stroke-width="1.25"/>
<path d="M335.5,749.6 L338.6,752.7 L335.5,755.8 L332.4,752.7 Z" fill="#fff" stroke="#111" stroke-width="1.25"/>
<path d="M328.6,799.1 L331.7,802.2 L328.6,805.3 L325.5,802.2 Z" fill="#fff" stroke="#111" stroke-width="1.25"/>
<path d="M360.4,707.7 L363.5,710.8 L360.4,713.9 L357.3,710.8 Z" fill="#fff" stroke="#111" stroke-width="1.25"/>
<path d="M360.4,731.8 L363.5,734.9 L360.4,738 L357.3,734.9 Z" fill="#fff" stroke="#111" stroke-width="1.25"/>
<path d="M360.4,743.2 L363.5,746.3 L360.4,749.4 L357.3,746.3 Z" fill="#fff" stroke="#111" stroke-width="1.25"/>
<path d="M360.4,762.5 L363.5,765.6 L360.4,768.7 L357.3,765.6 Z" fill="#fff" stroke="#111" stroke-width="1.25"/>
<path d="M391.9,777.5 L395,780.6 L391.9,783.7 L388.8,780.6 Z" fill="#fff" stroke="#111" stroke-width="1.25"/>
<path d="M384.3,786.4 L387.4,789.5 L384.3,792.6 L381.2,789.5 Z" fill="#fff" stroke="#111" stroke-width="1.25"/>
<path d="M399.5,786.4 L402.6,789.5 L399.5,792.6 L396.4,789.5 Z" fill="#fff" stroke="#111" stroke-width="1.25"/>
<path d="M391.9,793.5 L395,796.6 L391.9,799.7 L388.8,796.6 Z" fill="#fff" stroke="#111" stroke-width="1.25"/>
<path d="M416.3,750.8 L419.4,753.9 L416.3,757 L413.2,753.9 Z" fill="#fff" stroke="#111" stroke-width="1.25"/>
<path d="M431.3,749 L434.4,752.1 L431.3,755.2 L428.2,752.1 Z" fill="#fff" stroke="#111" stroke-width="1.25"/>
<path d="M431.3,756.1 L434.4,759.2 L431.3,762.3 L428.2,759.2 Z" fill="#fff" stroke="#111" stroke-width="1.25"/>
<path d="M423.9,763.8 L427,766.9 L423.9,770 L420.8,766.9 Z" fill="#fff" stroke="#111" stroke-width="1.25"/>
<path d="M455.4,761.2 L458.5,764.3 L455.4,767.4 L452.3,764.3 Z" fill="#fff" stroke="#111" stroke-width="1.25"/>
<path d="M448,776.9 L451.1,780 L448,783.1 L444.9,780 Z" fill="#fff" stroke="#111" stroke-width="1.25"/>
<path d="M448,786.4 L451.1,789.5 L448,792.6 L444.9,789.5 Z" fill="#fff" stroke="#111" stroke-width="1.25"/>
<path d="M463,782 L466.1,785.1 L463,788.2 L459.9,785.1 Z" fill="#fff" stroke="#111" stroke-width="1.25"/>
<path d="M487.4,726.9 L490.5,730 L487.4,733.1 L484.3,730 Z" fill="#fff" stroke="#111" stroke-width="1.25"/>
<path d="M479.7,750.3 L482.8,753.4 L479.7,756.5 L476.6,753.4 Z" fill="#fff" stroke="#111" stroke-width="1.25"/>
<path d="M494.7,750.8 L497.8,753.9 L494.7,757 L491.6,753.9 Z" fill="#fff" stroke="#111" stroke-width="1.25"/>
<path d="M487.4,759.2 L490.5,762.3 L487.4,765.4 L484.3,762.3 Z" fill="#fff" stroke="#111" stroke-width="1.25"/>
<line x1="324" y1="703.1" x2="361.6" y2="703.1" stroke="#111" stroke-width="1.25" stroke-linecap="butt"/>
<text x="342.8" y="700" font-size="8.6" text-anchor="middle" fill="#1a1a1a">ns</text>
<line x1="388.4" y1="743" x2="427" y2="743" stroke="#111" stroke-width="1.25" stroke-linecap="butt"/>
<text x="407.7" y="741.9" font-size="9.5" text-anchor="middle" font-weight="bold" fill="#222">***</text>
<line x1="451.8" y1="722.4" x2="489.9" y2="722.4" stroke="#111" stroke-width="1.25" stroke-linecap="butt"/>
<text x="470.85" y="721.3" font-size="9.5" text-anchor="middle" font-weight="bold" fill="#222">*</text>
<text transform="translate(278,776.5) rotate(-90) scale(0.78,1)" font-size="10.8" text-anchor="middle" fill="#111" stroke="#111" stroke-width="0.25">Intronic <tspan font-style="italic">Hbb/Hba</tspan> RNA</text>
<text x="328.4" y="874.8" font-size="9" text-anchor="middle" fill="#1a1a1a">sing</text>
<text x="360.3" y="874.8" font-size="9" text-anchor="middle" fill="#1a1a1a">diff</text>
<text x="392" y="874.8" font-size="9" text-anchor="middle" fill="#1a1a1a">sing</text>
<text x="424" y="874.8" font-size="9" text-anchor="middle" fill="#1a1a1a">diff</text>
<text x="455.6" y="874.8" font-size="9" text-anchor="middle" fill="#1a1a1a">sing</text>
<text x="487.5" y="874.8" font-size="9" text-anchor="middle" fill="#1a1a1a">diff</text>
<line x1="314.1" y1="881.4" x2="371.8" y2="881.4" stroke="#1a1a1a" stroke-width="1.2" stroke-linecap="butt"/>
<text x="342.95" y="893.6" font-size="9" text-anchor="middle" font-style="italic" fill="#1a1a1a"><tspan font-style="normal">Ery.A </tspan>Hbb<tspan font-size="6.57" dy="-3.87">th3/+</tspan></text>
<line x1="379.5" y1="881.4" x2="437.1" y2="881.4" stroke="#1a1a1a" stroke-width="1.2" stroke-linecap="butt"/>
<text x="408.3" y="893.6" font-size="9" text-anchor="middle" font-style="italic" fill="#1a1a1a"><tspan font-style="normal">Ery.B </tspan>Hbb<tspan font-size="6.57" dy="-3.87">th3/+</tspan></text>
<line x1="443.5" y1="881.4" x2="501.3" y2="881.4" stroke="#1a1a1a" stroke-width="1.2" stroke-linecap="butt"/>
<text x="472.4" y="893.6" font-size="9" text-anchor="middle" font-style="italic" fill="#1a1a1a"><tspan font-style="normal">retic </tspan>Hbb<tspan font-size="6.57" dy="-3.87">th3/+</tspan></text>
</svg>
</body></html>
